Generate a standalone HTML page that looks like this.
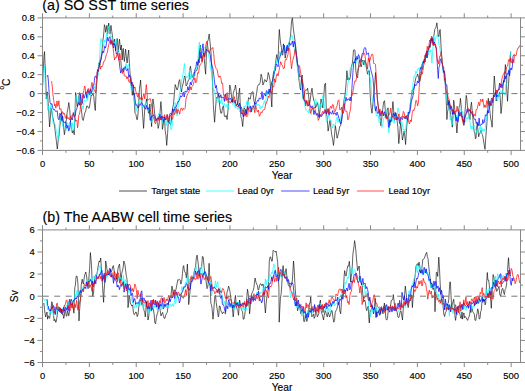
<!DOCTYPE html>
<html><head><meta charset="utf-8"><style>
html,body{margin:0;padding:0;background:#fff;width:525px;height:391px;overflow:hidden}
svg{display:block}
text{font-family:"Liberation Sans", sans-serif;fill:#000;stroke:#000;stroke-width:0.15px}
.tk{font-size:9.4px}
.yl{font-size:10.2px}
.ti{font-size:14.3px}
.lg{font-size:9.4px}
</style></head><body>
<svg width="525" height="391" viewBox="0 0 525 391">
<path d="M42.6 85.0 43.5 65.0 44.0 55.6 44.5 51.6 45.0 63.2 45.5 72.0 46.3 99.0 46.9 92.4 47.5 92.0 48.2 103.7 48.9 114.1 49.6 127.0 50.3 118.8 51.0 107.8 51.9 111.8 52.7 116.8 53.6 121.1 54.5 125.0 55.4 133.0 56.4 141.3 57.3 149.0 58.2 140.4 59.0 135.9 59.9 125.7 60.8 117.1 61.7 112.3 62.4 119.2 63.0 122.0 63.7 127.9 64.4 134.7 65.3 128.9 66.2 121.3 67.1 112.8 67.9 109.0 68.8 102.5 69.7 109.4 70.6 122.2 71.5 129.7 72.4 132.9 73.3 129.8 74.2 134.7 74.9 117.1 75.6 92.6 76.3 96.5 77.1 106.3 77.8 106.0 78.7 97.1 79.6 92.6 80.5 104.6 81.4 109.7 82.3 118.6 83.2 120.5 84.0 116.8 84.9 112.7 85.8 110.8 86.7 106.0 87.6 106.1 88.5 108.3 89.4 107.8 90.3 101.3 91.2 95.3 92.1 95.4 93.0 93.5 93.8 96.5 94.5 105.2 95.3 110.5 95.9 96.7 96.6 84.6 97.5 76.5 98.4 67.0 99.1 62.8 99.8 65.1 100.5 62.0 101.0 57.2 101.5 55.0 102.1 49.7 102.8 41.1 103.4 37.0 103.9 31.8 104.4 24.7 105.1 26.9 105.7 32.3 106.3 29.3 106.9 25.4 107.7 33.9 108.2 27.8 108.7 23.1 109.3 29.1 110.0 33.9 110.5 28.5 111.0 25.4 111.8 31.5 112.6 37.0 113.5 45.0 114.0 42.0 114.6 39.2 115.1 45.5 115.6 50.7 116.4 43.5 117.2 38.5 117.7 46.8 118.2 52.3 118.8 44.1 119.5 39.2 120.0 45.0 120.5 50.0 121.3 45.0 122.2 60.0 122.8 49.4 123.3 48.4 123.8 56.8 124.4 61.5 125.0 55.1 125.6 49.2 126.3 56.8 127.1 63.0 127.9 56.0 128.7 50.0 129.4 63.7 130.2 75.3 130.8 76.4 131.3 82.0 131.8 90.0 132.3 95.3 132.9 90.0 133.5 85.0 134.2 100.2 135.0 113.2 135.9 114.3 136.8 119.5 137.4 119.6 138.0 114.0 138.8 100.4 139.5 88.2 140.1 84.3 140.6 80.0 141.3 91.9 142.0 105.0 142.8 117.6 143.6 128.4 144.3 116.3 145.0 105.0 145.8 103.9 146.6 98.9 147.5 105.3 148.4 113.0 149.1 113.4 149.8 104.0 150.7 112.3 151.6 126.6 152.2 114.0 152.9 98.9 153.8 104.4 154.7 114.0 155.6 118.3 156.5 119.5 157.3 120.0 158.2 128.4 159.1 124.2 160.0 113.0 160.9 101.6 161.7 111.7 162.4 129.3 163.1 125.6 163.8 121.0 164.5 117.0 165.2 130.7 166.0 135.8 166.7 145.4 167.6 133.5 168.4 120.0 169.2 121.6 169.9 124.0 170.8 124.5 171.7 117.0 172.6 108.4 173.5 104.3 174.3 94.9 175.2 84.6 176.1 87.2 177.0 90.0 177.9 88.0 178.8 81.6 179.7 79.6 180.6 87.6 181.5 92.0 182.2 87.0 183.0 84.0 183.8 80.2 184.5 76.0 185.3 77.3 186.1 85.9 186.9 85.0 187.7 82.3 188.5 80.0 189.2 79.2 189.8 69.0 190.5 66.2 191.3 72.9 192.2 77.8 193.1 74.9 194.0 72.5 194.9 72.7 195.8 70.7 196.7 70.7 197.6 67.9 198.5 61.7 199.4 51.9 200.3 45.0 201.2 54.9 202.0 61.7 202.9 56.7 203.8 52.8 204.7 64.4 205.6 74.2 206.5 53.3 207.4 42.0 208.3 39.5 209.2 34.0 210.1 42.8 211.0 52.8 211.5 62.4 212.0 70.7 212.7 86.6 213.3 104.3 213.9 113.5 214.6 122.2 215.5 109.1 216.4 97.1 217.3 98.5 218.2 93.5 219.1 99.5 219.9 107.8 220.8 113.1 221.7 113.2 222.6 107.1 223.5 106.0 224.4 116.3 225.3 116.8 226.2 115.4 227.1 119.5 228.0 109.9 228.9 98.9 229.8 85.0 230.7 88.8 231.6 97.0 232.5 102.5 233.3 92.9 234.2 90.0 234.8 88.8 235.5 85.0 236.3 91.0 237.0 100.1 237.8 104.3 238.7 95.0 239.6 88.2 240.2 103.1 240.9 116.8 241.8 119.2 242.7 126.6 243.4 117.6 244.1 107.8 245.0 108.7 245.9 115.0 246.8 109.7 247.7 104.3 248.6 97.6 249.5 98.9 250.3 99.1 251.2 93.5 252.1 92.0 253.0 91.7 253.9 100.7 254.8 104.3 255.7 98.2 256.6 93.3 257.5 86.4 258.4 84.7 259.3 84.6 260.2 82.6 261.1 74.2 262.0 77.4 262.9 85.0 263.8 83.1 264.6 79.6 265.5 80.1 266.4 82.0 267.3 79.5 268.2 72.5 269.1 75.2 270.0 80.0 270.9 94.3 271.8 107.0 272.7 78.8 273.6 71.7 274.5 70.0 275.3 65.9 276.0 59.3 276.8 54.6 277.4 58.4 278.0 62.0 278.6 44.3 279.3 29.5 280.0 37.7 280.7 43.8 281.4 47.3 282.2 54.6 282.8 55.2 283.4 43.8 284.3 48.5 285.2 58.1 286.1 52.9 287.0 47.4 287.9 44.7 288.8 43.8 289.7 40.7 290.6 34.9 291.5 21.7 292.4 17.6 293.3 28.6 294.2 34.9 295.1 41.4 296.0 49.2 296.8 58.7 297.5 65.0 298.2 72.0 299.0 80.0 299.8 86.0 300.5 90.0 301.4 79.1 302.2 75.0 303.1 98.9 304.0 97.2 304.9 90.8 305.8 90.0 306.7 90.2 307.6 88.2 308.5 94.8 309.4 104.3 310.3 99.5 311.1 92.5 312.0 88.2 312.9 95.7 313.8 100.7 314.7 102.2 315.6 107.8 316.5 105.7 317.4 102.5 318.3 106.8 319.2 116.8 320.1 109.2 321.0 98.9 321.9 102.3 322.8 107.8 323.7 97.7 324.6 84.6 325.5 83.2 326.4 113.2 327.2 117.7 328.1 131.1 328.7 127.8 329.4 123.5 330.0 120.4 330.9 127.9 331.7 134.7 332.6 139.2 333.5 145.4 334.4 137.1 335.3 125.7 336.2 131.2 337.1 138.2 338.0 135.1 338.9 131.1 339.8 126.2 340.7 125.7 341.5 119.7 342.4 113.2 343.3 105.3 344.2 98.9 345.1 94.3 346.0 84.6 346.9 70.7 347.8 80.0 348.7 77.9 349.6 79.6 350.5 76.3 351.4 66.5 352.3 63.5 352.9 57.9 353.5 50.1 354.2 49.8 355.0 50.1 355.8 70.7 356.7 76.7 357.6 77.8 358.5 66.9 359.4 60.0 360.3 63.8 361.2 67.0 362.1 61.2 363.0 60.0 363.9 65.0 364.8 60.4 365.7 63.5 366.6 68.9 367.5 74.2 368.4 70.8 369.3 70.7 370.2 95.3 371.1 107.4 372.0 113.2 372.9 103.3 373.7 95.0 374.6 86.4 375.5 72.5 376.4 84.9 377.3 98.9 378.2 105.9 379.1 111.4 380.0 117.2 380.9 125.7 381.8 117.9 382.7 109.6 383.6 102.1 384.5 100.7 385.4 111.4 386.3 116.8 387.1 111.3 388.0 107.8 388.9 119.1 389.8 125.7 390.7 120.1 391.6 116.8 392.2 110.9 392.9 101.6 393.6 109.6 394.3 120.4 395.2 119.9 396.1 113.2 397.0 120.1 397.9 127.5 398.8 143.6 399.7 133.5 400.6 122.2 401.5 130.0 402.4 140.0 403.2 136.3 404.1 131.1 404.9 136.9 405.6 144.5 406.2 135.2 406.8 125.7 407.7 118.3 408.6 115.0 409.5 110.8 410.4 104.3 411.3 96.7 412.2 90.0 413.1 89.6 414.0 88.2 414.9 82.8 415.8 77.8 416.7 76.8 417.6 74.0 418.5 77.1 419.3 81.4 419.9 81.4 420.5 78.0 421.2 72.0 421.9 69.0 422.5 69.3 423.2 61.1 423.8 63.2 424.5 61.7 425.1 55.2 425.8 55.5 426.4 57.4 427.1 50.9 427.7 51.6 428.3 50.2 429.0 46.3 429.6 45.8 430.2 47.3 430.9 38.6 431.5 40.0 432.2 41.1 432.8 37.2 433.5 36.2 434.1 34.2 434.8 29.2 435.4 28.5 436.1 26.8 436.9 22.8 437.6 29.4 438.3 36.2 438.9 36.8 439.6 30.4 440.2 29.5 440.9 43.6 441.5 55.5 442.1 61.2 442.7 67.0 443.4 70.6 444.0 70.8 444.5 72.1 445.0 81.0 445.5 88.3 446.0 94.5 446.9 119.5 447.5 111.8 448.2 108.8 448.8 100.2 449.5 103.9 450.1 110.6 450.8 115.6 451.6 120.2 452.3 127.2 453.0 114.9 453.7 100.2 454.3 104.5 455.0 112.0 455.6 115.6 456.2 123.9 456.9 133.0 457.7 122.4 458.5 111.8 459.1 107.0 459.8 105.1 460.4 98.3 461.0 103.7 461.7 112.9 462.3 119.5 462.9 119.4 463.6 125.2 464.2 125.2 464.9 112.8 465.5 105.7 466.2 95.4 466.8 98.3 467.5 107.0 468.1 111.8 468.7 112.6 469.4 117.5 470.0 119.5 470.8 106.2 471.5 102.2 472.2 111.2 472.8 117.1 473.5 127.2 474.1 131.1 474.8 132.9 475.4 138.7 476.0 138.4 476.7 126.7 477.3 123.3 478.0 130.8 478.7 136.8 479.3 133.9 480.0 133.3 480.6 131.0 481.2 130.1 481.9 134.2 482.5 134.8 483.3 139.2 484.2 144.8 485.0 149.3 485.6 139.8 486.3 131.0 487.0 121.8 487.6 107.7 488.3 98.3 488.9 105.2 489.6 108.1 490.2 113.7 490.8 119.6 491.5 121.8 492.1 127.2 492.6 114.3 493.2 100.0 493.8 84.8 494.3 76.0 494.9 84.0 495.5 91.0 496.2 101.0 497.0 97.0 497.9 95.0 498.7 96.8 499.5 92.0 500.2 97.4 501.0 113.6 501.8 106.5 502.5 95.0 503.2 83.9 504.0 80.0 504.7 73.4 505.4 64.5 506.1 74.9 506.8 90.7 507.5 101.3 508.4 86.5 509.3 72.0 510.0 62.1 510.7 51.5" fill="none" stroke="#000" stroke-width="0.62" stroke-linejoin="round"/>
<path d="M42.7 86.5 43.6 73.5 44.5 65.0 45.0 79.7 45.6 93.5 46.3 95.9 47.0 100.0 47.7 110.3 48.5 106.1 49.2 113.2 50.1 110.0 51.0 104.0 51.9 109.9 52.7 120.4 53.6 124.7 54.5 122.9 55.4 126.0 56.3 131.7 57.2 134.5 58.1 140.0 58.7 133.6 59.4 122.7 60.0 117.0 60.9 122.1 61.7 119.8 62.6 126.0 63.5 127.1 64.4 126.9 65.3 127.5 66.2 130.3 67.1 122.5 68.0 124.0 68.9 124.3 69.7 122.2 70.6 122.0 71.5 131.8 72.4 122.8 73.3 130.8 74.2 129.3 75.1 111.7 76.0 95.3 76.9 99.7 77.8 103.5 78.7 99.1 79.6 95.3 80.5 105.5 81.4 108.0 82.3 105.9 83.2 109.5 84.1 100.3 85.0 100.7 85.9 101.7 86.8 94.8 87.6 100.4 88.5 93.5 89.4 90.3 90.3 95.8 91.2 89.6 92.1 90.0 93.0 92.4 93.9 86.2 94.8 88.3 95.7 84.0 96.5 80.2 97.2 78.8 98.0 75.0 98.8 64.4 99.5 60.6 100.2 46.0 101.0 38.5 101.7 42.1 102.3 41.7 103.0 45.0 103.7 47.4 104.3 40.0 105.0 42.0 105.8 41.4 106.6 32.8 107.4 36.8 108.2 26.0 109.1 29.1 110.0 35.0 110.9 36.8 111.8 36.4 112.6 44.0 113.5 42.0 114.4 41.9 115.2 46.7 116.1 39.6 117.0 43.8 117.5 48.6 118.0 49.2 118.9 51.5 119.8 58.0 120.7 61.7 121.6 66.5 122.5 70.7 123.4 68.1 124.3 68.6 125.2 67.0 126.1 63.2 126.9 68.4 127.8 65.3 128.7 64.5 129.6 74.2 130.5 83.8 131.4 91.7 132.3 88.1 133.2 88.0 134.1 99.5 135.0 103.4 135.9 111.4 136.8 108.4 137.7 104.3 138.6 101.3 139.5 103.8 140.4 99.2 141.3 100.7 142.2 105.6 143.0 108.0 143.9 105.6 144.8 105.5 145.7 102.5 146.6 102.7 147.5 107.4 148.4 108.0 149.3 112.3 150.2 116.8 151.1 122.0 152.0 122.2 152.9 119.1 153.8 116.8 154.7 120.5 155.6 119.4 156.5 122.2 157.4 122.8 158.2 115.2 159.1 113.2 160.0 117.9 160.9 114.5 161.8 118.6 162.7 122.5 163.6 116.8 164.5 117.0 165.4 123.6 166.3 125.7 167.2 119.1 168.1 123.3 169.0 116.8 169.9 116.9 170.8 129.7 171.7 129.3 172.6 120.4 173.5 116.8 174.3 111.0 175.2 102.5 176.1 106.9 177.0 116.0 177.9 110.0 178.8 98.5 179.7 91.7 180.6 90.1 181.5 82.8 182.2 77.4 183.0 74.1 183.8 67.8 184.5 63.5 185.2 74.7 186.0 78.0 186.9 76.3 187.8 77.4 188.7 74.2 189.6 69.7 190.5 79.6 191.3 72.6 192.2 78.0 193.1 76.0 194.0 72.4 194.9 76.1 195.8 68.8 196.7 68.9 197.6 63.3 198.5 49.3 199.4 42.0 200.3 47.7 201.1 48.3 202.0 52.8 202.9 52.2 203.8 48.5 204.7 47.4 205.6 47.7 206.5 45.6 207.4 45.2 208.3 52.8 209.2 58.5 210.1 63.5 211.0 70.7 211.9 74.4 212.8 87.0 213.7 90.6 214.6 89.8 215.5 97.0 216.4 99.8 217.2 97.2 218.1 102.8 219.0 98.0 219.9 99.5 220.8 103.7 221.7 98.7 222.6 104.0 223.5 106.1 224.4 103.4 225.3 106.9 226.2 107.0 227.1 103.7 228.0 109.1 228.9 102.4 229.8 102.0 230.7 102.8 231.6 102.1 232.5 104.6 233.4 104.0 234.3 102.1 235.2 108.1 236.1 106.6 237.0 107.5 237.9 109.6 238.8 104.2 239.6 112.1 240.5 110.0 241.4 106.9 242.3 110.9 243.2 108.5 244.1 106.1 245.0 107.0 245.9 106.0 246.8 101.4 247.7 107.4 248.6 102.1 249.5 107.0 250.4 108.5 251.2 107.3 252.1 111.0 253.0 110.0 253.9 105.6 254.8 109.4 255.7 106.0 256.6 103.6 257.5 105.3 258.4 104.3 259.3 104.8 260.2 109.1 261.1 106.2 262.0 107.8 262.9 105.6 263.7 102.8 264.6 100.7 265.5 105.2 266.4 92.5 267.3 95.3 268.2 93.9 269.1 89.4 270.1 93.7 271.0 88.0 271.9 81.7 272.7 83.3 273.6 80.0 274.5 70.7 275.4 63.5 276.3 63.2 277.1 59.7 278.0 63.0 278.9 58.1 279.8 51.4 280.7 55.5 281.6 52.5 282.5 51.0 283.4 51.1 284.3 45.8 285.2 51.7 286.1 47.4 287.0 46.2 287.9 47.3 288.8 43.8 289.7 38.8 290.6 39.6 291.5 34.9 292.4 35.8 293.3 42.0 294.1 47.6 295.0 52.8 295.9 54.6 296.8 63.5 297.7 69.6 298.6 74.2 299.3 77.6 300.0 85.0 300.7 87.3 301.5 88.8 302.2 91.7 303.1 98.7 304.0 97.2 304.9 106.0 305.8 109.9 306.7 109.5 307.6 111.4 308.5 112.7 309.4 108.8 310.3 113.2 311.2 114.7 312.1 109.5 313.0 107.8 313.9 106.4 314.7 100.6 315.6 98.9 316.5 103.6 317.4 101.7 318.3 104.3 319.2 109.7 320.1 103.7 321.0 107.8 321.9 105.5 322.8 95.6 323.7 98.9 324.6 107.7 325.5 113.1 326.4 122.2 327.3 120.8 328.1 116.0 329.0 116.8 329.9 120.4 330.8 119.8 331.7 124.0 332.6 128.1 333.5 123.9 334.4 125.7 335.3 125.7 336.2 119.6 337.1 116.8 338.0 122.3 338.9 119.1 339.8 122.2 340.7 118.6 341.5 110.7 342.4 107.8 343.3 108.4 344.2 100.7 345.1 96.2 346.0 95.9 346.9 93.5 347.8 83.7 348.7 79.2 349.6 70.7 350.5 67.6 351.4 68.6 352.3 65.0 353.2 63.5 354.1 63.8 354.9 59.6 355.8 61.7 356.7 62.7 357.6 58.7 358.5 58.1 359.4 60.1 360.3 60.4 361.2 63.5 362.1 64.1 363.0 61.7 363.9 61.6 364.8 65.3 365.7 67.1 366.6 63.5 367.5 66.1 368.4 74.5 369.3 76.0 370.1 77.3 371.0 85.0 371.5 92.9 372.0 99.0 372.9 101.6 373.7 105.4 374.6 107.8 375.5 109.8 376.4 116.2 377.3 115.0 378.2 114.8 379.1 122.6 380.0 122.2 380.9 120.3 381.8 127.5 382.7 124.4 383.6 118.3 384.5 116.8 385.4 117.3 386.2 109.9 387.1 109.6 388.0 122.9 388.9 132.9 389.8 123.2 390.7 116.8 391.6 121.5 392.5 119.7 393.4 122.2 394.3 123.4 395.2 115.9 396.1 118.6 397.0 115.7 397.9 107.8 398.8 110.0 399.7 116.8 400.6 123.2 401.5 120.9 402.4 124.0 403.3 129.9 404.1 129.1 405.0 132.9 405.9 127.2 406.8 116.8 407.7 112.0 408.6 116.1 409.5 107.8 410.4 101.6 411.3 98.9 412.2 92.3 413.1 82.7 414.0 76.0 414.9 76.8 415.8 71.2 416.7 73.2 417.6 68.9 418.5 67.8 419.4 70.6 420.2 67.1 421.1 67.0 422.0 65.4 422.9 61.3 423.8 59.3 424.6 59.2 425.4 56.8 426.1 57.1 426.9 54.5 427.7 55.5 428.4 54.9 429.1 50.2 429.9 52.0 430.6 49.7 431.2 53.5 431.9 63.2 432.7 51.6 433.5 36.2 434.1 35.2 434.8 42.3 435.4 40.0 436.0 37.2 436.7 36.5 437.3 34.3 437.9 36.9 438.6 42.3 439.2 45.8 439.9 48.5 440.5 52.6 441.2 55.5 441.8 57.4 442.5 69.4 443.1 69.0 443.7 70.6 444.4 78.3 445.0 82.4 445.6 83.2 446.3 95.3 446.9 100.2 447.5 102.3 448.2 110.3 448.8 109.8 449.5 110.0 450.2 120.1 451.0 117.5 451.7 125.2 452.4 124.8 453.1 117.2 453.9 118.4 454.6 113.7 455.3 111.3 456.1 119.6 456.8 115.3 457.5 119.5 458.2 118.5 458.9 113.7 459.7 113.3 460.4 109.8 461.1 108.5 461.9 112.8 462.6 111.4 463.3 115.6 464.0 117.3 464.8 115.5 465.5 122.0 466.2 119.5 467.1 117.3 468.1 119.2 469.0 115.6 469.7 119.8 470.3 125.4 471.0 129.0 471.9 125.9 472.9 128.8 473.8 125.2 474.5 125.5 475.2 129.7 476.0 129.2 476.7 133.0 477.4 132.2 478.1 129.4 478.9 130.4 479.6 129.0 480.3 126.0 481.1 134.0 481.8 127.4 482.5 131.0 483.2 131.0 483.9 128.9 484.7 130.9 485.4 127.2 486.1 119.0 486.9 117.9 487.6 106.4 488.3 106.0 489.0 105.8 489.8 103.6 490.5 106.5 491.2 104.1 492.1 99.6 493.1 101.2 494.0 92.5 494.8 93.9 495.5 97.2 496.2 95.7 497.0 100.2 497.8 100.9 498.5 93.0 499.3 97.0 500.0 91.6 500.8 90.6 501.6 93.6 502.3 90.6 503.1 93.8 503.8 92.1 504.6 94.5 505.2 95.0 505.9 84.0 506.5 84.0 507.2 83.2 507.8 72.2 508.5 70.0 509.1 68.6 509.8 55.2 510.4 55.5 510.7 51.5" fill="none" stroke="#0ff" stroke-width="0.7" stroke-linejoin="round"/>
<path d="M47.2 76.7 47.8 75.2 48.3 80.0 49.2 93.5 50.1 102.7 51.0 104.3 51.9 103.6 52.7 107.8 53.6 109.9 54.5 109.3 55.4 111.3 56.3 111.4 57.2 110.7 58.1 118.6 59.0 119.9 59.9 113.2 60.8 115.1 61.7 120.5 62.6 116.0 63.5 122.2 64.4 123.1 65.3 121.5 66.2 124.0 67.1 128.3 67.9 125.3 68.8 131.1 69.7 127.7 70.6 120.4 71.5 118.8 72.4 119.9 73.3 112.5 74.2 116.8 75.1 116.0 76.0 110.5 76.9 108.6 77.8 104.3 78.7 102.3 79.6 105.2 80.5 94.3 81.4 100.7 82.3 103.4 83.2 94.4 84.1 98.3 85.0 95.3 85.9 91.9 86.8 97.8 87.6 89.8 88.5 91.7 89.4 94.6 90.3 88.8 91.2 93.0 92.1 90.0 93.0 84.8 93.9 85.1 94.8 76.7 95.7 76.0 96.6 78.6 97.5 69.7 98.3 71.4 99.2 67.0 100.1 60.4 101.0 60.3 101.9 54.9 102.8 51.0 103.7 52.7 104.6 46.4 105.5 48.1 106.4 43.8 107.3 37.3 108.2 41.1 109.1 37.5 110.0 36.7 110.9 44.5 111.8 41.3 112.7 45.6 113.6 48.0 114.4 43.6 115.3 45.6 116.2 53.7 117.1 52.8 118.0 56.4 118.9 58.6 119.8 67.0 120.7 73.1 121.6 70.7 122.5 69.3 123.4 72.0 124.3 68.9 125.2 66.6 126.1 70.2 127.0 70.7 127.9 68.5 128.8 77.4 129.6 75.0 130.5 77.8 131.3 83.8 132.2 82.0 133.0 88.0 133.7 94.8 134.3 93.0 135.0 98.9 135.9 105.3 136.8 104.8 137.7 107.8 138.6 107.6 139.5 104.6 140.4 105.0 141.3 102.5 142.2 103.4 143.1 105.7 143.9 105.8 144.8 107.8 145.7 109.2 146.6 105.3 147.5 109.3 148.4 107.8 149.3 109.9 150.2 120.3 151.1 116.8 152.0 116.2 152.9 115.8 153.8 115.0 154.7 116.5 155.6 120.8 156.5 120.4 157.4 117.8 158.2 119.2 159.1 116.8 160.0 114.4 160.9 120.0 161.8 116.0 162.7 118.6 163.6 121.9 164.5 116.9 165.4 119.9 166.3 116.8 167.2 115.2 168.1 122.2 169.0 121.4 169.9 113.7 170.8 113.2 171.7 115.2 172.6 108.8 173.5 111.4 174.4 110.3 175.2 107.0 176.1 107.2 177.0 104.3 177.9 101.4 178.8 101.6 179.7 98.9 180.6 95.7 181.5 97.1 182.4 95.3 183.3 92.1 184.2 97.0 185.1 91.0 186.0 91.7 186.9 92.1 187.8 86.6 188.7 90.1 189.6 86.4 190.4 82.2 191.3 85.0 192.2 80.6 193.0 80.0 193.9 76.9 194.8 69.8 195.8 67.6 196.7 61.7 197.6 65.3 198.4 59.7 199.2 62.9 200.0 51.9 200.8 58.3 201.6 55.5 202.3 48.2 203.0 43.8 203.8 52.1 204.7 56.4 205.6 51.3 206.5 49.2 207.4 51.0 208.3 51.0 209.2 51.7 210.1 54.6 211.0 61.2 211.9 65.3 212.8 67.9 213.7 74.2 214.6 82.2 215.5 88.2 216.4 85.3 217.2 92.7 218.1 92.6 219.0 95.3 219.9 97.8 220.8 94.7 221.7 98.2 222.6 97.1 223.5 97.0 224.4 101.4 225.3 94.0 226.2 98.9 227.1 99.9 228.0 98.5 228.9 99.3 229.8 98.9 230.7 98.0 231.6 101.9 232.5 99.1 233.4 100.7 234.3 102.6 235.2 100.1 236.1 106.2 237.0 104.3 237.9 104.1 238.8 106.5 239.6 103.1 240.5 107.8 241.4 113.9 242.3 112.8 243.2 116.8 244.1 114.7 245.0 111.4 245.9 109.6 246.8 114.0 247.7 106.4 248.6 109.2 249.5 107.8 250.4 105.9 251.2 112.1 252.1 106.3 253.0 106.0 253.9 106.4 254.8 102.7 255.7 104.4 256.6 102.5 257.5 100.4 258.4 101.2 259.3 97.8 260.2 98.9 261.1 98.6 262.0 91.6 262.9 99.7 263.8 95.3 264.7 93.4 265.6 96.1 266.4 90.5 267.3 91.7 268.2 94.1 269.1 88.9 270.1 92.7 271.0 86.4 271.9 81.8 272.7 80.9 273.6 76.0 274.5 71.7 275.4 70.7 276.3 63.7 277.2 65.3 278.1 66.8 278.9 59.4 279.8 57.4 280.7 54.6 281.6 51.2 282.5 51.9 283.4 49.2 284.3 45.1 285.2 53.0 286.1 52.8 287.0 45.5 287.9 51.1 288.8 47.4 289.7 42.7 290.6 45.2 291.5 43.8 292.4 41.0 293.3 47.0 294.2 41.2 295.1 44.7 296.0 52.8 296.9 59.8 297.7 65.3 298.6 65.8 299.5 76.5 300.4 76.0 301.3 77.2 302.2 86.0 303.1 95.2 304.0 100.7 304.9 99.9 305.8 103.4 306.7 100.7 307.6 104.3 308.5 106.0 309.4 103.6 310.3 106.0 311.2 107.9 312.1 105.9 313.0 107.8 313.9 114.6 314.7 110.7 315.6 113.2 316.5 115.3 317.4 113.4 318.3 115.0 319.2 117.7 320.1 115.0 321.0 116.8 321.9 115.9 322.8 113.7 323.7 113.2 324.6 112.8 325.4 110.2 326.3 114.0 327.2 111.4 328.1 109.2 329.0 115.4 329.9 111.7 330.8 113.2 331.7 114.2 332.6 110.6 333.5 114.3 334.4 113.2 335.3 113.0 336.2 115.4 337.1 112.1 338.0 115.0 338.9 118.0 339.8 121.0 340.7 124.0 341.6 121.4 342.4 114.4 343.3 113.2 344.2 109.2 345.1 102.5 346.0 97.2 346.9 100.7 347.8 99.1 348.7 98.9 349.5 100.5 350.2 97.1 351.0 101.0 351.9 88.3 352.9 72.6 353.8 61.7 354.6 63.0 355.4 58.2 356.1 60.5 356.9 56.3 357.7 59.3 358.5 54.6 359.4 56.5 360.3 60.4 361.2 61.7 362.1 53.7 363.0 53.7 363.9 49.2 364.8 47.4 365.7 48.1 366.6 54.6 367.5 53.9 368.4 52.8 369.3 59.4 370.2 67.0 371.1 70.8 372.0 74.2 372.9 77.7 373.7 87.0 374.6 102.5 375.5 110.9 376.4 106.5 377.3 113.2 378.2 113.5 379.1 110.8 380.0 113.2 380.9 115.9 381.8 110.8 382.7 111.4 383.6 115.9 384.5 111.7 385.4 115.0 386.3 118.1 387.1 117.0 388.0 119.5 388.9 127.5 389.8 119.7 390.7 122.2 391.6 120.1 392.5 115.8 393.4 113.2 394.3 116.5 395.2 112.3 396.1 116.8 397.0 120.0 397.9 116.8 398.8 119.5 399.7 123.7 400.6 117.5 401.5 118.6 402.4 119.6 403.2 116.8 404.1 116.8 405.0 118.9 405.9 115.8 406.8 118.6 407.7 119.9 408.6 112.2 409.5 113.2 410.4 109.9 411.3 101.6 412.2 98.9 413.1 95.4 414.0 88.2 414.9 84.4 415.8 85.8 416.7 84.6 417.5 80.9 418.4 83.0 419.2 80.0 420.0 70.8 420.7 67.6 421.4 68.8 422.2 64.2 422.9 63.2 423.6 61.6 424.4 59.0 425.1 62.0 425.8 55.5 426.5 51.3 427.2 58.0 428.0 50.5 428.7 49.7 429.6 46.2 430.6 41.6 431.5 38.2 432.2 43.4 432.9 38.5 433.7 44.8 434.4 42.0 435.0 43.9 435.7 47.9 436.3 47.8 437.0 57.7 437.6 69.3 438.3 78.5 438.9 67.6 439.6 66.2 440.2 59.3 440.8 58.8 441.5 62.7 442.1 63.2 442.7 65.1 443.4 72.6 444.0 70.8 444.7 72.8 445.3 82.1 446.0 85.0 446.9 85.1 447.9 105.2 448.8 102.2 449.5 101.9 450.2 109.3 451.0 105.7 451.7 108.0 452.4 114.4 453.1 109.8 453.9 114.0 454.6 111.8 455.3 113.8 456.1 120.8 456.8 117.2 457.5 121.4 458.2 121.7 458.9 112.4 459.7 116.2 460.4 113.7 461.1 112.2 461.9 116.9 462.6 116.4 463.3 119.5 464.0 122.7 464.8 115.8 465.5 116.3 466.2 113.7 467.1 109.3 468.1 111.5 469.0 109.8 469.7 109.8 470.4 112.1 471.2 112.3 471.9 113.7 472.6 115.6 473.4 116.0 474.1 119.1 474.8 119.5 475.5 119.1 476.2 123.6 477.0 121.9 477.7 123.3 478.4 125.7 479.1 118.1 479.9 125.9 480.6 125.2 481.3 124.2 482.1 124.5 482.8 119.6 483.5 123.3 484.4 122.0 485.4 114.7 486.3 115.6 487.0 114.5 487.8 110.5 488.5 113.0 489.2 106.0 489.9 100.9 490.6 105.5 491.4 98.4 492.1 98.3 492.8 102.6 493.6 95.3 494.3 96.9 495.0 94.5 495.8 92.0 496.5 97.2 497.3 90.5 498.0 90.9 498.8 88.7 499.6 83.0 500.4 87.4 501.1 83.8 501.9 87.9 502.7 85.0 503.5 80.6 504.2 82.2 505.0 76.0 505.7 78.8 506.5 76.0 507.3 73.5 508.1 74.3 508.8 70.4 509.6 75.8 510.4 69.0 511.0 67.9 511.7 69.8 512.3 67.0 513.0 56.5 513.7 54.5" fill="none" stroke="#00f" stroke-width="0.7" stroke-linejoin="round"/>
<path d="M51.6 81.1 52.3 86.5 53.0 95.0 53.8 100.8 54.5 106.0 55.1 104.2 55.8 108.2 56.4 105.8 57.0 100.9 57.7 106.3 58.3 104.8 58.9 100.7 59.6 109.2 60.2 109.6 60.9 108.5 61.7 113.7 62.4 111.6 63.1 112.5 63.8 114.3 64.5 113.4 65.3 118.3 66.0 117.3 66.7 115.2 67.5 118.6 68.2 117.6 68.9 119.2 69.5 119.5 70.2 116.8 70.8 116.3 71.5 119.0 72.2 114.6 73.0 115.1 73.7 114.4 74.6 116.2 75.6 121.3 76.5 120.0 77.0 121.2 77.5 127.8 78.1 124.4 78.8 115.0 79.4 114.4 80.1 111.0 80.8 102.5 81.6 105.2 82.3 97.5 83.1 93.6 83.8 90.6 84.6 86.0 85.2 87.4 85.7 93.0 86.6 92.9 87.5 90.6 88.3 88.4 89.2 92.9 90.1 91.0 91.0 88.0 91.8 82.3 92.6 83.7 93.2 87.7 93.8 89.0 94.7 90.8 95.5 92.9 96.3 85.0 97.2 72.2 98.1 71.2 99.0 67.6 99.8 64.5 100.5 69.1 101.3 66.0 102.0 66.8 102.8 65.3 103.7 61.5 104.6 61.2 105.5 58.1 106.4 54.5 107.3 52.6 108.2 47.4 109.1 43.4 110.0 40.3 110.9 43.2 111.8 39.7 112.7 43.8 113.6 52.7 114.5 60.0 115.4 57.5 116.2 58.0 117.1 52.8 118.0 52.8 118.9 60.5 119.8 53.3 120.7 58.1 121.6 70.7 122.5 73.6 123.4 67.8 124.3 76.0 125.2 76.0 126.1 76.0 126.9 78.9 127.8 76.8 128.7 81.4 129.6 82.5 130.5 78.5 131.4 86.0 132.3 84.0 133.2 84.3 134.1 88.3 135.0 87.0 135.9 91.7 136.8 94.5 137.7 97.1 138.6 93.2 139.5 98.8 140.4 98.9 141.3 97.0 142.1 100.2 143.0 97.1 143.9 93.4 144.8 98.9 145.6 92.2 146.3 84.6 146.9 90.7 147.5 100.7 148.4 100.0 149.3 98.9 150.2 98.6 151.1 102.5 152.0 108.3 152.9 113.2 153.8 116.6 154.7 122.6 155.6 124.0 156.5 119.2 157.4 118.6 158.3 120.5 159.1 116.4 160.0 118.0 160.9 119.2 161.8 116.1 162.7 117.0 163.6 118.0 164.5 114.6 165.4 119.0 166.3 119.9 167.2 114.2 168.1 117.0 169.0 120.9 169.9 115.0 170.8 116.0 171.7 120.1 172.6 118.0 173.5 109.1 174.3 114.7 175.2 113.0 176.1 108.3 177.0 113.5 177.9 109.3 178.8 111.0 179.7 114.2 180.6 108.8 181.5 107.8 182.4 110.5 183.3 108.3 184.2 109.6 185.1 108.6 186.0 98.9 186.9 95.9 187.8 93.5 188.7 92.1 189.6 89.9 190.4 86.8 191.1 90.0 191.9 86.6 192.6 86.0 193.4 84.6 194.2 80.8 194.9 77.8 195.8 82.9 196.7 81.4 197.6 72.7 198.5 73.2 199.4 67.0 200.3 64.2 201.2 63.5 202.1 62.4 202.9 55.3 203.8 54.6 204.7 57.1 205.6 47.4 206.5 41.6 207.4 43.8 208.3 50.6 209.2 52.8 210.1 49.6 211.0 49.2 211.9 48.8 212.8 47.4 213.7 53.6 214.6 63.5 215.5 67.1 216.4 68.9 217.3 69.9 218.2 76.0 219.1 77.4 219.9 75.8 220.8 77.8 221.7 83.5 222.6 83.2 223.5 95.3 224.4 95.2 225.3 99.8 226.2 100.7 227.1 92.6 228.0 102.5 228.9 101.5 229.8 102.5 230.7 102.4 231.6 100.2 232.5 100.6 233.4 98.9 234.3 96.6 235.2 102.9 236.1 103.9 237.0 106.0 237.9 106.7 238.8 106.1 239.6 108.3 240.5 107.8 241.4 106.9 242.3 112.7 243.2 109.7 244.1 113.2 245.0 116.3 245.9 114.1 246.8 116.8 247.7 115.6 248.6 108.3 249.5 111.4 250.4 112.1 251.2 108.6 252.1 109.3 253.0 107.8 253.9 106.4 254.8 112.7 255.7 105.4 256.6 109.6 257.5 112.1 258.4 110.1 259.3 116.3 260.2 115.0 261.1 111.8 262.0 112.8 262.9 110.1 263.8 109.6 264.7 109.4 265.6 104.6 266.4 103.0 267.3 100.7 268.2 96.1 269.1 97.6 270.0 89.3 270.9 91.7 271.6 94.4 272.3 87.0 273.0 86.4 273.8 87.1 274.6 78.8 275.5 82.4 276.3 76.0 277.2 73.6 278.1 76.0 279.0 70.7 279.9 66.0 280.7 61.7 281.6 64.8 282.5 65.4 283.4 68.9 284.3 68.2 285.2 59.7 286.1 60.0 287.0 57.7 287.9 54.6 288.8 47.6 289.7 49.2 290.6 59.6 291.5 68.9 292.4 62.1 293.3 58.1 294.1 55.7 295.0 49.2 295.9 52.0 296.8 56.4 297.7 65.2 298.6 65.3 299.5 65.8 300.4 70.7 301.3 77.1 302.2 79.6 303.1 83.3 304.0 89.0 304.9 100.3 305.8 106.0 306.7 100.4 307.6 106.2 308.5 102.5 309.4 100.2 310.3 113.2 311.2 111.4 312.1 107.6 312.9 109.2 313.8 107.8 314.7 107.2 315.6 112.7 316.5 113.2 317.4 115.0 318.3 120.4 319.2 118.6 320.1 114.3 321.0 116.0 321.9 113.2 322.8 111.2 323.7 113.8 324.6 109.6 325.5 109.6 326.3 114.1 327.2 113.2 328.1 108.3 329.0 113.9 329.9 107.8 330.8 106.1 331.7 108.5 332.6 104.3 333.5 105.1 334.4 112.2 335.3 111.4 336.2 107.8 337.1 105.7 338.0 100.7 338.9 99.8 339.8 109.8 340.7 109.6 341.6 107.1 342.4 113.3 343.3 106.0 344.2 103.5 345.1 110.7 346.0 111.4 346.9 111.2 347.8 119.9 348.7 118.6 349.4 113.8 350.0 111.6 350.7 108.0 351.5 96.6 352.3 95.0 353.1 90.9 354.0 85.0 354.9 80.8 355.8 81.4 356.7 76.9 357.6 70.7 358.5 67.3 359.4 67.0 360.3 64.1 361.2 58.7 362.1 56.4 363.0 55.4 363.9 52.8 364.8 53.6 365.7 61.7 366.6 65.4 367.5 68.9 368.4 58.0 369.3 61.7 370.1 60.0 371.0 56.4 371.9 54.0 372.8 54.6 373.7 63.6 374.6 63.5 375.5 64.4 376.4 79.6 377.3 97.1 378.2 106.0 379.1 111.4 380.0 109.0 380.9 114.3 381.8 113.2 382.7 112.3 383.6 114.7 384.5 115.0 385.4 114.6 386.2 119.1 387.1 116.8 388.0 115.5 388.9 115.3 389.8 113.2 390.7 108.1 391.6 115.9 392.5 116.8 393.4 116.3 394.3 119.1 395.2 118.6 396.1 117.4 397.0 119.4 397.9 116.8 398.8 113.9 399.7 121.4 400.6 120.4 401.5 116.5 402.4 117.1 403.3 111.4 404.2 112.7 405.0 118.3 405.9 118.6 406.8 115.6 407.7 115.0 408.6 121.9 409.5 124.0 410.4 120.0 411.3 121.7 412.2 113.2 413.1 109.9 414.0 110.7 414.9 107.8 415.8 100.5 416.7 100.7 417.6 105.8 418.5 102.5 419.2 87.5 420.0 77.0 420.7 76.6 421.4 71.8 422.2 74.3 422.9 70.8 423.6 65.6 424.4 63.3 425.1 55.3 425.8 53.5 426.5 55.7 427.2 46.3 428.0 50.0 428.7 47.8 429.6 40.1 430.6 42.3 431.5 36.2 432.2 39.4 432.8 45.1 433.5 45.8 434.1 43.6 434.8 45.3 435.4 44.0 436.0 46.1 436.7 55.9 437.3 61.2 437.9 60.5 438.6 63.7 439.2 59.3 439.9 55.7 440.5 56.2 441.2 51.6 441.8 56.4 442.5 66.0 443.1 67.0 443.7 66.9 444.4 80.3 445.0 78.5 445.5 83.7 446.0 90.0 446.8 93.1 447.5 93.5 448.3 98.7 449.0 98.9 449.8 104.1 450.5 106.0 451.2 106.9 452.0 110.9 452.7 109.8 453.4 109.8 454.1 114.4 454.9 110.8 455.6 111.8 456.3 112.0 457.1 106.1 457.8 111.3 458.5 109.8 459.4 111.1 460.4 115.7 461.3 115.6 462.0 116.8 462.6 121.3 463.3 123.3 464.0 120.7 464.8 118.7 465.5 114.2 466.2 113.7 467.1 113.0 468.1 108.3 469.0 109.8 469.7 111.3 470.4 110.0 471.2 113.1 471.9 111.8 472.6 111.0 473.4 116.4 474.1 114.1 474.8 115.6 475.4 116.1 476.1 109.5 476.7 109.8 477.4 108.4 478.0 104.7 478.7 102.2 479.6 105.8 480.6 99.2 481.5 100.2 482.2 101.8 482.8 98.9 483.5 104.1 484.1 107.6 484.8 104.8 485.4 106.0 486.0 107.5 486.7 100.6 487.3 102.2 487.9 104.0 488.6 103.3 489.2 106.0 489.9 104.8 490.6 102.7 491.4 105.6 492.1 100.2 492.8 97.8 493.6 97.1 494.3 93.2 495.0 92.5 495.7 92.5 496.4 90.0 497.2 93.4 497.9 90.6 498.6 88.8 499.4 89.9 500.1 85.2 500.8 85.0 501.5 81.7 502.3 76.8 503.0 75.0 503.8 73.8 504.5 71.7 505.2 73.6 506.0 70.0 506.9 66.6 507.7 66.0 508.5 59.7 509.4 59.3 510.1 62.2 510.8 57.8 511.6 62.8 512.3 63.0 513.0 59.1 513.8 62.7 514.5 54.5 515.2 55.5 516.1 55.7 517.1 50.2 518.0 47.8 518.7 47.9 519.5 45.7 520.2 45.5" fill="none" stroke="#f00" stroke-width="0.7" stroke-linejoin="round"/>
<path d="M43.2 304.3 43.9 303.4 44.5 309.4 45.1 313.8 45.7 317.0 46.4 313.5 47.0 312.0 47.6 319.2 48.3 315.8 49.0 317.1 49.6 318.4 50.2 314.5 50.9 309.4 51.8 301.7 52.3 303.2 52.8 306.9 53.5 314.5 54.1 320.9 54.6 319.4 55.1 319.6 55.8 322.4 56.4 320.9 57.3 314.5 57.9 308.9 58.5 306.9 59.1 310.4 59.8 312.0 60.5 309.3 61.1 309.4 61.8 313.1 62.4 314.5 63.0 313.8 63.7 318.4 64.3 316.1 64.9 309.4 65.6 311.1 66.2 315.8 66.8 316.4 67.5 310.7 68.2 313.2 68.8 315.8 69.4 312.1 70.0 305.6 70.7 300.2 71.3 299.2 71.9 303.0 72.6 305.6 73.2 307.9 73.9 313.2 74.8 287.7 75.4 285.1 76.1 276.4 77.0 276.1 77.5 279.3 78.0 285.0 78.5 303.1 79.0 320.9 79.5 311.5 80.0 305.0 80.6 296.5 81.2 285.4 81.7 281.9 82.2 279.2 82.8 282.7 83.4 284.0 84.1 278.9 84.7 274.6 85.2 274.3 85.8 272.0 86.3 274.6 86.8 278.0 87.4 284.1 88.1 288.7 88.8 278.5 89.6 268.7 90.4 252.6 91.0 259.2 91.5 265.6 92.1 280.4 92.7 296.4 93.5 293.0 94.2 284.0 95.0 276.4 95.8 274.9 96.5 275.9 97.3 271.8 98.2 265.9 99.1 261.0 99.9 262.0 100.7 258.0 101.3 266.7 102.0 276.0 102.5 285.6 103.1 294.8 103.6 302.3 104.1 291.0 104.6 284.0 105.2 274.6 105.7 261.0 106.5 266.0 107.3 271.8 108.0 273.6 108.8 274.9 109.5 268.4 110.3 268.7 111.1 271.9 111.9 270.3 112.7 266.7 113.4 265.6 114.2 270.8 115.0 273.3 115.8 274.2 116.5 279.5 117.2 275.2 118.0 268.7 118.8 265.6 119.5 264.1 120.3 272.8 121.1 281.0 121.8 273.1 122.6 270.0 123.2 267.2 123.8 261.0 124.3 262.3 124.9 264.1 125.7 271.0 126.4 276.4 127.0 279.4 127.5 288.7 128.0 307.6 128.5 304.1 129.0 295.3 129.7 297.6 130.3 303.0 131.1 304.7 131.8 306.1 132.6 304.9 133.4 312.3 134.2 314.7 134.9 313.8 135.7 312.0 136.4 312.3 137.2 316.6 138.0 314.6 138.8 306.6 139.5 303.0 140.2 301.6 141.0 298.4 141.8 298.9 142.6 301.5 143.3 307.0 144.1 310.7 144.7 312.6 145.3 316.9 145.9 309.9 146.4 301.5 147.2 308.1 148.0 320.0 148.8 315.8 149.5 307.6 150.2 308.0 151.0 310.7 151.8 310.5 152.6 307.6 153.3 309.3 154.1 313.8 154.8 322.6 155.6 323.8 156.4 317.4 157.2 313.8 157.9 312.0 158.7 303.0 159.4 305.1 160.2 310.7 161.0 315.9 161.8 313.8 162.6 312.4 163.3 315.3 164.1 318.2 164.9 318.4 165.7 315.1 166.4 313.8 167.2 312.4 167.9 307.6 168.7 301.3 169.5 298.4 170.2 297.2 171.0 295.4 171.5 289.7 172.0 286.1 172.7 290.5 173.3 293.8 174.1 289.7 174.8 290.8 175.6 291.2 176.3 287.7 177.1 283.5 177.9 279.5 178.7 280.0 179.4 279.5 180.2 280.1 180.9 284.1 181.7 281.2 182.5 273.3 183.1 267.2 183.7 265.6 184.2 269.6 184.8 271.8 185.6 273.2 186.4 278.0 186.9 271.2 187.4 264.1 188.1 281.1 188.7 304.6 189.4 298.2 190.2 289.2 190.9 283.0 191.7 280.0 192.5 278.3 193.3 276.4 194.1 272.5 194.8 268.7 195.6 266.9 196.3 258.0 197.1 255.1 197.9 261.0 198.7 268.0 199.4 274.9 200.2 267.9 200.9 268.7 201.7 266.5 202.4 256.4 203.2 256.9 204.0 265.6 204.8 272.7 205.5 276.4 206.2 282.0 207.0 288.7 207.6 287.6 208.1 284.1 208.6 272.7 209.1 263.3 209.6 273.9 210.1 284.1 210.9 303.8 211.5 304.9 212.1 308.7 213.0 319.2 213.7 311.4 214.3 303.0 214.9 296.1 215.5 295.4 216.2 302.3 217.0 308.4 217.7 312.3 218.3 316.9 218.8 315.2 219.3 306.1 220.1 306.1 220.9 310.7 221.7 312.3 222.4 313.8 223.2 312.2 224.0 312.3 224.8 313.3 225.5 313.8 226.2 299.7 227.0 292.3 227.8 290.0 228.6 286.1 229.3 288.3 230.1 292.3 230.8 298.0 231.6 303.0 232.4 308.4 233.2 316.9 233.7 312.7 234.2 304.6 234.8 299.5 235.5 295.4 236.2 305.4 237.0 309.2 237.8 310.5 238.5 315.3 239.1 307.7 239.6 300.0 240.2 302.8 240.9 307.6 241.4 309.5 241.9 310.7 242.6 311.8 243.2 319.2 243.9 319.1 244.7 315.3 245.4 309.3 246.2 304.6 246.8 297.2 247.5 289.2 248.2 293.5 249.0 303.0 249.6 313.8 250.2 307.5 250.8 298.4 251.6 294.3 252.4 292.3 253.2 290.5 253.9 287.7 254.5 281.9 255.1 278.0 255.9 282.1 256.7 284.1 257.4 285.3 258.2 290.2 258.9 289.2 259.6 285.4 260.4 283.7 261.1 284.1 261.9 285.8 262.7 284.1 263.2 284.2 263.7 289.0 264.5 302.6 265.4 313.0 266.2 303.2 267.0 295.4 267.8 291.4 268.5 286.0 269.3 261.0 270.1 256.8 270.8 257.2 271.6 261.2 272.3 261.0 273.1 250.3 273.9 250.8 274.6 251.5 275.4 252.1 276.1 251.0 276.9 256.6 277.7 262.6 278.3 276.3 278.9 287.2 279.2 322.2 279.8 309.0 280.4 298.4 281.2 293.3 282.0 281.0 282.6 270.2 283.1 265.6 283.9 274.2 284.6 276.4 285.4 272.4 286.1 268.7 286.9 276.7 287.7 281.0 288.4 281.8 289.2 284.1 289.9 287.5 290.7 287.2 291.5 283.3 292.3 281.0 292.9 272.0 293.5 261.0 294.1 268.2 294.6 278.0 295.2 288.6 295.8 296.4 296.1 298.4 296.9 304.0 297.6 310.7 298.4 308.0 299.2 304.6 299.9 306.9 300.7 313.8 301.5 312.5 302.3 310.7 303.1 313.2 303.8 321.5 304.6 321.4 305.3 315.3 306.1 318.1 306.9 321.5 307.6 317.3 308.4 312.3 309.0 307.4 309.6 303.0 310.1 303.1 310.7 296.9 311.2 304.2 311.8 316.9 312.4 316.2 313.0 315.3 313.6 313.9 314.2 318.4 315.0 316.8 315.8 310.7 316.6 312.4 317.3 316.9 318.1 315.4 318.8 313.8 319.6 303.5 320.4 300.0 321.1 310.3 321.9 313.8 322.7 316.1 323.5 320.0 324.2 315.4 325.0 310.7 325.8 312.2 326.5 315.3 327.3 316.9 328.1 312.3 328.9 314.3 329.6 316.9 330.5 314.5 331.4 310.7 332.1 310.6 332.9 316.9 333.7 322.2 334.5 320.7 335.2 312.5 336.0 310.7 336.8 309.2 337.6 306.1 338.4 302.2 339.1 303.0 339.9 311.2 340.7 313.8 341.4 302.8 342.2 295.4 342.9 292.8 343.7 285.0 344.2 275.1 344.7 270.6 345.4 275.6 346.2 276.0 346.9 270.6 347.7 266.0 348.5 266.2 349.3 261.3 350.0 268.6 350.7 282.0 351.5 274.0 352.3 266.0 352.9 254.1 353.5 250.0 354.1 245.4 354.6 240.6 355.2 244.6 355.8 250.0 356.7 261.0 357.6 270.6 358.4 268.0 359.2 266.0 359.9 277.6 360.6 282.0 361.4 282.8 362.1 285.2 362.9 295.4 363.8 301.8 364.7 300.0 365.4 302.2 366.0 307.8 366.7 310.7 367.5 307.7 368.3 306.1 368.8 317.7 369.3 323.0 370.0 312.1 370.6 310.7 371.4 309.1 372.1 306.1 372.9 308.6 373.6 313.8 374.4 306.8 375.2 298.4 375.9 306.4 376.7 316.9 377.5 316.0 378.3 310.7 379.1 311.7 379.8 315.3 380.6 312.5 381.3 307.6 382.1 308.7 382.9 313.8 383.6 309.7 384.4 303.0 385.2 310.7 386.0 319.2 386.8 320.1 387.5 318.4 388.2 310.9 389.0 307.6 389.8 307.2 390.5 306.1 391.3 300.4 392.1 300.0 392.7 299.7 393.3 294.6 394.1 301.0 394.8 307.6 395.6 309.5 396.4 310.7 397.1 311.9 397.9 316.9 398.7 317.7 399.5 315.3 400.2 311.4 401.0 310.7 401.8 316.0 402.5 320.0 403.3 308.2 404.1 300.0 404.7 293.2 405.3 286.1 406.0 291.9 406.7 298.4 407.4 304.0 408.2 307.6 408.9 303.4 409.7 300.0 410.5 300.6 411.3 295.4 411.9 298.3 412.4 307.6 412.9 300.4 413.5 290.0 414.1 283.6 414.8 278.0 415.4 273.1 415.9 266.7 416.7 264.6 417.5 263.6 418.2 265.9 419.0 262.1 419.8 266.2 420.6 273.0 421.3 272.5 422.0 267.0 422.8 259.4 423.6 259.0 424.4 258.4 425.1 256.0 425.9 253.8 426.7 252.3 427.3 256.5 428.0 258.6 428.6 264.8 429.3 271.4 429.9 276.4 430.6 284.1 431.2 287.7 431.9 284.4 432.5 288.0 433.1 289.5 433.8 287.6 434.4 289.8 435.0 311.7 435.6 295.2 436.3 272.5 437.0 272.2 437.7 276.4 438.2 267.7 438.8 257.2 439.5 268.8 440.2 284.1 440.9 293.1 441.5 300.0 442.1 299.2 442.9 304.1 443.8 314.1 444.6 316.5 445.4 312.8 446.1 311.7 446.9 307.0 447.5 303.8 448.2 303.3 448.8 299.2 449.3 290.5 449.8 282.2 450.4 281.9 451.0 295.5 451.7 307.0 452.4 303.6 453.0 301.9 453.7 299.2 454.3 306.2 455.0 317.1 455.6 320.4 456.2 315.6 456.9 314.7 457.5 307.0 458.1 307.1 458.8 312.3 459.4 312.7 460.0 314.3 460.7 318.0 461.3 318.5 462.0 311.9 462.6 319.1 463.3 314.6 463.9 312.9 464.6 317.8 465.2 316.5 466.0 317.5 466.9 319.2 467.7 320.4 468.3 317.9 469.0 317.0 469.6 314.6 470.2 309.7 470.9 312.5 471.5 308.8 472.2 308.3 472.8 311.8 473.5 312.7 474.3 314.1 475.0 320.2 475.8 320.4 476.4 316.1 477.1 313.3 477.7 308.8 478.5 311.6 479.2 319.0 480.0 318.5 480.6 311.8 481.3 310.2 481.9 303.0 482.5 299.4 483.2 300.8 483.8 299.2 484.4 299.8 485.1 304.9 485.7 303.0 486.5 284.8 487.3 272.5 487.9 280.1 488.6 280.0 489.2 284.1 489.9 294.2 490.6 299.1 491.3 308.3 492.2 291.7 493.1 274.5 493.9 277.2 494.7 283.7 495.4 286.9 496.0 287.3 496.7 291.4 497.4 290.4 498.2 288.3 499.0 286.4 499.8 294.5 500.6 296.1 501.3 293.0 502.1 288.9 502.8 288.3 503.6 292.4 504.4 294.5 505.1 289.4 505.9 288.3 506.6 283.9 507.4 273.0 507.9 265.0 508.5 257.7 509.1 267.2 509.7 271.5 510.5 276.0" fill="none" stroke="#000" stroke-width="0.62" stroke-linejoin="round"/>
<path d="M43.2 297.9 43.9 299.1 44.5 300.5 45.1 300.1 45.8 299.2 46.4 299.8 47.0 305.6 47.7 310.0 48.3 306.3 49.0 309.4 49.6 314.9 50.3 311.4 50.9 313.2 51.5 312.5 52.1 310.7 52.8 310.4 53.4 315.8 54.0 314.6 54.7 311.7 55.3 312.0 56.0 314.6 56.6 306.2 57.3 309.4 57.9 310.7 58.6 306.8 59.2 308.1 59.8 310.9 60.5 311.1 61.1 313.2 61.7 313.0 62.4 308.3 63.0 310.7 63.7 309.6 64.3 305.5 65.0 306.9 65.6 308.9 66.3 304.9 66.9 305.6 67.5 310.1 68.2 301.0 68.8 304.3 69.7 304.2 70.6 303.0 71.3 301.0 71.9 304.3 72.6 301.7 73.2 299.7 73.9 301.8 74.5 299.2 75.1 293.6 75.8 298.7 76.4 294.1 77.1 290.2 77.7 297.6 78.4 292.8 79.1 290.9 79.8 294.0 80.5 290.0 81.2 289.2 82.0 290.8 82.8 287.1 83.5 286.9 84.3 285.9 85.0 283.1 85.8 282.3 86.6 282.1 87.3 279.7 88.1 280.0 88.9 284.5 89.7 277.4 90.4 281.0 91.2 279.5 92.0 278.0 92.7 280.6 93.5 276.0 94.2 276.4 95.0 279.2 95.8 274.0 96.5 275.9 97.3 273.3 98.1 269.3 98.8 269.6 99.6 265.6 100.4 265.7 101.1 273.7 101.9 274.9 102.7 274.9 103.5 279.0 104.2 275.3 105.0 276.4 105.8 280.2 106.5 274.6 107.2 277.1 108.0 274.9 108.8 273.9 109.5 275.9 110.3 273.9 111.1 274.9 111.9 277.8 112.7 274.5 113.4 276.3 114.2 276.4 115.0 274.6 115.8 280.0 116.5 279.2 117.3 281.0 118.0 280.9 118.8 275.9 119.5 282.4 120.3 277.9 121.1 277.8 121.8 286.9 122.6 281.0 123.4 275.5 124.1 286.3 124.9 279.5 125.7 280.1 126.4 284.9 127.2 285.6 128.0 285.0 128.7 292.7 129.5 291.8 130.3 286.8 131.2 296.0 131.9 300.6 132.6 303.0 133.4 301.9 134.1 307.8 134.9 307.6 135.7 302.7 136.4 307.5 137.2 304.6 138.0 302.7 138.7 305.2 139.5 301.5 140.3 301.7 141.0 305.5 141.8 303.0 142.6 302.6 143.3 308.8 144.1 304.6 144.9 305.1 145.6 307.5 146.4 307.6 147.2 305.9 147.9 314.1 148.7 307.6 149.5 303.2 150.2 311.0 151.0 309.2 151.8 306.3 152.5 310.0 153.3 307.6 154.1 305.1 154.8 307.9 155.6 306.1 156.4 305.3 157.1 309.9 157.9 309.2 158.7 306.3 159.4 309.5 160.2 306.9 161.0 304.1 161.7 309.7 162.5 307.6 163.3 304.1 164.1 306.4 164.9 304.6 165.7 304.2 166.4 308.0 167.2 306.1 168.0 305.5 168.7 307.7 169.5 304.6 170.3 303.8 171.0 306.4 171.8 306.1 172.6 303.6 173.3 306.5 174.1 303.0 174.9 298.9 175.6 303.7 176.4 300.0 177.2 293.8 177.9 298.7 178.7 296.9 179.5 293.4 180.2 295.6 181.0 292.3 181.8 286.7 182.6 290.1 183.3 287.5 184.1 287.7 184.7 288.4 185.4 282.5 186.0 282.0 186.6 282.9 187.3 275.3 187.9 276.4 188.7 280.8 189.4 279.0 190.2 282.5 191.0 281.8 191.8 275.3 192.5 278.6 193.3 276.4 194.1 272.6 194.8 271.6 195.6 267.2 196.3 266.7 197.1 271.8 197.9 273.6 198.6 272.0 199.4 276.4 200.2 274.5 200.9 268.2 201.7 266.4 202.4 270.9 203.2 274.9 204.0 271.7 204.7 275.6 205.5 273.3 206.3 274.5 207.0 278.7 207.8 281.0 208.6 279.1 209.3 284.8 210.1 284.1 210.9 281.9 211.6 295.9 212.4 290.2 213.2 288.4 213.9 288.3 214.7 285.6 215.5 280.8 216.2 287.2 217.0 284.1 217.8 281.8 218.5 291.3 219.3 288.7 220.1 287.3 220.8 292.3 221.6 293.3 222.4 296.1 223.2 303.3 224.0 304.6 224.8 301.4 225.5 303.8 226.3 303.0 227.1 302.7 227.8 304.5 228.6 304.6 229.4 303.6 230.1 307.9 230.9 306.1 231.7 304.3 232.4 305.0 233.2 303.0 234.0 303.9 234.7 309.0 235.5 306.1 236.3 301.0 237.0 306.0 237.8 304.6 238.6 302.1 239.3 308.6 240.1 307.6 240.9 307.6 241.6 309.5 242.4 309.2 243.2 306.7 243.9 310.4 244.7 307.6 245.5 307.0 246.2 310.3 247.0 306.1 247.8 300.8 248.5 304.6 249.3 303.0 250.1 299.6 250.8 301.7 251.6 300.0 252.4 297.5 253.1 298.0 253.9 296.9 254.7 295.9 255.4 299.4 256.2 296.9 257.0 291.9 257.7 297.0 258.5 293.8 259.3 292.7 260.1 294.1 260.8 292.1 261.6 292.3 262.4 292.0 263.1 287.4 263.9 289.5 264.7 287.0 265.4 278.7 266.2 284.9 266.9 280.5 267.7 279.5 268.5 282.0 269.2 275.7 270.0 276.7 270.8 274.9 271.6 272.4 272.3 273.6 273.1 268.7 273.8 264.1 274.6 265.3 275.4 276.4 276.1 275.9 276.9 273.3 277.7 270.7 278.4 275.7 279.2 271.8 280.0 273.0 280.7 277.1 281.5 277.9 282.3 272.1 283.0 276.3 283.8 273.3 284.6 271.2 285.3 278.3 286.1 274.9 286.9 276.7 287.7 279.5 288.4 283.0 289.2 286.0 289.9 291.8 290.7 298.0 291.4 295.7 292.0 292.0 292.8 292.2 293.5 294.0 294.4 302.6 295.3 304.6 296.1 304.0 296.8 307.5 297.6 306.1 298.4 305.4 299.2 309.1 300.0 309.2 300.8 309.3 301.5 316.1 302.3 310.7 303.1 309.7 303.8 314.5 304.6 312.3 305.4 311.2 306.1 318.4 306.9 313.8 307.7 310.3 308.4 315.0 309.2 310.7 310.0 307.9 310.7 311.9 311.5 312.3 312.3 308.5 313.0 313.0 313.8 310.7 314.6 306.3 315.3 310.2 316.1 309.2 316.9 308.5 317.6 308.5 318.4 307.6 319.1 304.9 319.9 303.0 320.7 307.2 321.4 306.6 322.2 310.7 323.0 312.8 323.7 307.4 324.5 306.1 325.3 311.1 326.0 305.4 326.8 309.2 327.6 313.5 328.3 308.4 329.1 310.7 329.9 312.5 330.6 302.6 331.4 306.1 332.2 305.2 333.0 301.5 333.8 301.4 334.5 305.8 335.3 304.6 336.1 303.5 336.8 303.4 337.6 301.5 338.4 297.5 339.1 299.0 339.9 296.9 340.7 294.6 341.4 295.2 342.2 293.8 342.9 290.9 343.7 288.7 344.5 288.5 345.2 282.0 346.0 284.0 346.8 280.0 347.6 276.9 348.3 278.4 349.1 273.3 349.9 268.5 350.6 269.8 351.4 273.9 352.1 268.5 352.9 274.4 353.6 273.0 354.4 269.8 355.2 270.4 356.0 275.5 356.8 275.9 357.6 276.1 358.3 278.1 359.1 279.0 359.9 277.5 360.6 281.2 361.4 282.1 362.2 282.7 362.9 285.4 363.7 286.7 364.5 285.2 365.2 296.2 366.0 291.3 366.8 292.8 367.5 297.5 368.3 298.0 369.0 310.7 369.8 310.3 370.5 316.4 371.3 312.3 372.1 307.7 372.8 312.5 373.6 309.2 374.4 309.0 375.2 312.5 376.0 310.7 376.8 308.2 377.5 312.6 378.3 310.7 379.1 308.1 379.8 309.9 380.6 309.2 381.4 307.2 382.1 310.4 382.9 310.7 383.7 308.3 384.4 308.7 385.2 307.6 386.0 305.4 386.7 309.9 387.5 307.6 388.3 306.9 389.0 310.4 389.8 309.2 390.6 306.2 391.3 308.7 392.1 307.6 392.9 307.0 393.6 310.3 394.4 309.2 395.2 306.9 395.9 308.5 396.7 307.6 397.5 307.2 398.2 311.3 399.0 310.7 399.8 307.8 400.5 310.1 401.3 309.2 402.1 305.2 402.8 307.7 403.6 304.6 404.4 303.4 405.1 307.5 405.9 303.0 406.7 301.1 407.4 303.8 408.2 298.4 409.0 290.6 409.7 295.9 410.5 292.3 411.2 287.8 412.0 286.1 412.8 283.9 413.6 280.0 414.4 276.7 415.1 276.3 415.9 271.3 416.7 265.2 417.4 272.5 418.2 268.3 419.0 265.8 419.7 270.5 420.5 266.7 421.3 266.6 422.0 274.4 422.8 271.3 423.6 268.4 424.3 273.1 425.1 272.0 426.0 269.2 426.8 274.0 427.7 272.5 428.3 274.1 429.0 280.8 429.6 282.2 430.2 282.6 430.9 287.5 431.5 284.1 432.2 284.5 432.8 286.3 433.5 286.0 434.4 285.8 435.4 291.5 436.3 292.0 437.0 292.5 437.8 298.9 438.5 294.1 439.2 299.0 439.9 304.2 440.6 299.6 441.4 304.6 442.1 303.1 442.8 301.8 443.6 306.5 444.3 303.9 445.0 305.0 445.7 306.4 446.4 302.9 447.2 309.8 447.9 306.9 448.6 304.9 449.4 316.1 450.1 304.6 450.8 308.8 451.5 311.3 452.2 306.3 453.0 313.7 453.7 310.8 454.6 308.1 455.6 312.3 456.5 310.8 457.2 310.1 457.9 311.1 458.7 305.4 459.4 308.8 460.1 313.2 460.9 305.0 461.6 308.4 462.3 306.9 463.0 306.3 463.8 309.0 464.5 306.1 465.2 308.8 465.9 310.5 466.6 307.4 467.4 307.5 468.1 306.9 468.8 305.4 469.6 306.6 470.3 305.1 471.0 305.0 471.9 309.6 472.9 305.7 473.8 306.9 474.5 306.4 475.2 304.0 476.0 304.6 476.7 303.1 477.4 301.5 478.1 303.2 478.9 297.9 479.6 301.2 480.3 302.1 481.1 300.1 481.8 300.1 482.5 299.2 483.2 295.6 483.9 298.9 484.7 296.3 485.4 295.4 486.1 295.3 486.9 289.8 487.6 294.4 488.3 291.5 489.0 288.2 489.8 290.3 490.5 288.3 491.2 287.7 492.1 288.0 493.1 280.6 494.0 283.8 494.7 282.5 495.4 276.1 496.2 283.2 496.9 278.3 497.7 273.7 498.4 278.3 499.2 276.7 500.0 278.0 500.8 278.0 501.5 274.3 502.2 277.5 503.0 276.0 503.7 275.5 504.3 278.4 505.0 279.0 505.9 273.1 506.8 276.7 507.6 271.6 508.5 272.5 509.2 275.3 509.8 273.2 510.5 274.5" fill="none" stroke="#0ff" stroke-width="0.7" stroke-linejoin="round"/>
<path d="M47.2 299.2 47.7 305.6 48.3 306.3 49.0 309.8 49.6 310.7 50.2 309.6 50.9 310.9 51.5 308.1 52.1 306.7 52.8 308.3 53.4 305.6 54.0 306.2 54.7 310.7 55.3 314.5 56.0 307.2 56.6 308.1 57.2 309.2 57.9 309.1 58.5 310.7 59.2 310.6 59.8 307.4 60.5 309.4 61.1 313.0 61.8 308.9 62.4 313.2 63.0 313.2 63.7 307.1 64.3 310.7 64.9 310.0 65.6 307.5 66.2 308.1 66.8 310.3 67.5 306.6 68.1 309.4 68.7 310.7 69.4 299.3 70.0 301.7 70.7 304.1 71.3 304.0 72.0 305.6 72.6 304.4 73.3 300.3 73.9 300.5 74.5 300.2 75.2 298.1 75.8 299.2 76.4 299.0 77.1 296.2 77.7 296.6 78.6 297.0 79.5 294.0 80.3 290.4 81.1 292.6 81.9 291.5 82.7 289.3 83.5 289.7 84.2 288.0 85.0 286.9 85.8 288.7 86.5 281.9 87.3 286.1 88.1 282.3 88.9 281.9 89.7 281.8 90.4 279.5 91.2 280.8 92.0 285.5 92.7 281.2 93.5 284.4 94.2 283.8 95.0 280.5 95.8 283.9 96.5 275.7 97.3 277.7 98.0 278.6 98.8 276.4 99.6 273.9 100.3 274.8 101.1 271.8 101.9 270.3 102.6 280.4 103.4 277.9 104.2 273.3 105.0 282.4 105.7 275.1 106.5 274.9 107.3 275.1 108.0 273.6 108.8 275.0 109.6 273.3 110.4 269.5 111.2 277.1 111.9 275.0 112.7 276.4 113.5 283.3 114.2 277.8 115.0 280.2 115.7 281.0 116.5 281.6 117.2 287.1 118.0 285.1 118.8 287.2 119.5 289.6 120.3 285.6 121.1 284.3 121.8 284.7 122.6 284.1 123.4 281.9 124.1 292.2 124.9 287.2 125.7 283.7 126.4 289.0 127.2 284.1 128.0 284.7 128.7 289.3 129.5 290.2 130.3 287.6 131.0 295.7 131.8 293.3 132.6 293.3 133.3 302.3 134.1 299.0 134.9 298.6 135.6 304.3 136.4 303.0 137.2 302.5 137.9 303.7 138.7 303.0 139.5 299.7 140.2 299.1 141.0 292.1 141.8 290.8 142.6 301.0 143.3 298.4 144.1 298.0 144.8 301.0 145.6 301.5 146.4 303.3 147.2 307.0 148.0 309.2 148.8 306.0 149.5 308.4 150.3 306.1 151.1 300.1 151.8 309.9 152.6 303.0 153.4 299.5 154.1 304.2 154.9 304.6 155.7 300.0 156.4 307.1 157.2 301.5 158.0 302.2 158.7 308.8 159.5 306.1 160.3 304.1 161.0 306.4 161.8 304.6 162.6 298.3 163.3 308.9 164.1 307.6 164.9 303.7 165.6 306.5 166.4 304.6 167.2 303.1 167.9 304.8 168.7 303.0 169.5 298.4 170.2 301.8 171.0 298.4 171.8 295.8 172.5 297.9 173.3 295.4 174.1 292.8 174.8 298.7 175.6 292.3 176.4 292.0 177.1 295.5 177.9 296.9 178.7 298.2 179.4 303.0 180.2 300.3 181.0 295.4 181.8 292.6 182.5 292.1 183.3 289.2 184.1 286.5 184.8 287.3 185.6 286.1 186.3 283.5 187.1 284.1 187.9 288.2 188.6 287.6 189.4 290.2 190.2 289.0 190.9 282.4 191.7 281.0 192.5 281.4 193.2 277.6 194.0 277.9 194.8 276.9 195.5 270.9 196.3 274.9 197.1 273.9 197.8 271.0 198.6 270.3 199.4 276.0 200.1 275.9 200.9 284.1 201.7 280.6 202.4 276.6 203.2 273.3 204.0 274.5 204.7 271.7 205.5 271.8 206.3 275.4 207.0 275.8 207.8 279.5 208.6 282.9 209.3 283.5 210.1 285.6 210.9 291.2 211.6 284.4 212.4 288.7 213.2 288.7 213.9 287.1 214.7 287.2 215.5 289.0 216.2 289.1 217.0 290.2 217.8 292.7 218.6 289.2 219.4 289.1 220.1 296.1 220.9 298.4 221.7 295.5 222.4 304.5 223.2 304.6 224.0 306.2 224.7 310.1 225.5 312.3 226.2 306.3 227.0 306.1 227.8 308.8 228.5 299.8 229.3 301.5 230.1 306.6 230.8 303.4 231.6 304.6 232.4 308.1 233.1 304.8 233.9 307.6 234.7 306.4 235.4 304.1 236.2 303.0 237.0 305.1 237.7 302.5 238.5 306.1 239.3 305.7 240.1 304.1 240.9 304.6 241.7 306.0 242.4 303.1 243.2 303.0 244.0 304.8 244.7 303.0 245.5 304.6 246.3 306.4 247.0 301.8 247.8 301.5 248.6 302.6 249.3 298.1 250.1 298.4 250.9 303.7 251.6 295.7 252.4 296.9 253.2 301.4 253.9 297.1 254.7 300.0 255.5 300.6 256.2 295.7 257.0 293.8 257.8 295.1 258.5 291.1 259.3 296.9 260.1 300.3 260.8 299.7 261.6 303.0 262.4 301.1 263.1 294.1 263.9 292.3 264.7 294.4 265.4 286.8 266.2 287.5 267.0 288.0 267.8 285.6 268.5 289.4 269.3 284.1 270.1 283.0 270.8 283.4 271.6 276.9 272.3 281.0 273.1 276.4 273.9 275.0 274.6 271.7 275.4 270.3 276.1 276.9 276.9 276.4 277.6 274.8 278.4 281.0 279.2 279.4 280.0 271.8 280.8 269.3 281.5 270.3 282.3 274.4 283.1 274.9 283.9 274.6 284.6 277.8 285.4 277.9 286.2 276.9 286.9 281.6 287.7 281.0 288.5 279.5 289.2 283.4 290.0 284.1 290.8 283.5 291.5 284.7 292.3 282.5 293.1 284.5 293.8 291.8 294.6 299.1 295.3 306.1 296.1 301.8 296.8 306.0 297.6 303.0 298.4 300.1 299.2 307.1 300.0 306.1 300.8 304.5 301.5 311.2 302.3 310.7 303.1 307.1 303.8 313.3 304.6 312.3 305.4 311.6 306.1 318.2 306.9 313.8 307.7 313.1 308.4 317.2 309.2 312.3 310.0 310.2 310.7 312.5 311.5 310.7 312.3 308.6 313.0 310.7 313.8 309.2 314.6 304.5 315.3 311.4 316.1 310.7 316.9 309.6 317.6 311.3 318.4 307.6 319.2 304.5 319.9 309.1 320.7 306.1 321.5 305.6 322.2 308.9 323.0 309.2 323.8 306.1 324.5 308.0 325.3 304.6 326.1 302.6 326.8 308.6 327.6 307.6 328.4 304.5 329.1 306.4 329.9 304.6 330.7 303.5 331.4 306.5 332.2 303.0 333.0 301.4 333.7 303.4 334.5 301.5 335.3 299.8 336.0 301.0 336.8 300.0 337.6 297.2 338.3 304.9 339.1 303.0 339.9 299.1 340.6 300.3 341.4 298.4 342.2 295.2 342.9 299.2 343.7 293.0 344.5 289.5 345.2 292.0 346.0 290.0 346.8 288.1 347.5 291.1 348.3 287.0 349.1 283.3 349.8 289.8 350.6 288.2 351.3 281.2 352.1 282.1 352.9 282.3 353.6 276.4 354.4 274.4 355.2 275.1 356.0 272.9 356.8 274.6 357.5 280.5 358.3 282.8 359.1 282.1 359.9 276.0 360.6 277.5 361.4 284.9 362.1 282.1 362.9 278.4 363.6 284.5 364.4 283.6 365.2 283.2 365.9 288.8 366.7 286.7 367.5 289.3 368.3 293.0 369.1 300.9 369.8 297.1 370.6 303.0 371.4 306.6 372.1 304.7 372.9 309.2 373.7 309.7 374.4 307.3 375.2 310.7 376.0 317.6 376.7 311.9 377.5 313.0 378.3 312.7 379.0 310.4 379.8 309.2 380.6 313.7 381.3 307.5 382.1 310.7 382.9 311.3 383.6 308.4 384.4 307.6 385.2 311.1 385.9 305.0 386.7 304.6 387.5 310.2 388.2 306.7 389.0 310.7 389.8 312.2 390.5 307.3 391.3 307.6 392.1 311.7 392.8 306.6 393.6 309.2 394.4 310.8 395.1 307.1 395.9 310.7 396.7 308.6 397.4 305.0 398.2 303.0 399.0 307.1 399.7 300.4 400.5 306.1 401.3 307.3 402.0 292.3 402.8 296.9 403.6 299.9 404.3 295.7 405.1 300.0 405.9 304.3 406.6 298.0 407.4 301.5 408.2 303.2 408.9 294.7 409.7 296.9 410.5 296.3 411.3 289.2 412.1 285.6 412.8 287.1 413.6 285.0 414.4 281.9 415.1 287.9 415.9 282.1 416.7 278.2 417.4 279.1 418.2 275.9 418.9 272.6 419.7 269.8 420.5 272.4 421.3 272.9 422.1 269.6 422.9 274.5 423.5 274.4 424.2 267.3 424.8 268.7 425.5 273.0 426.2 268.8 427.0 273.6 427.7 274.5 428.3 276.2 429.0 280.6 429.6 280.2 430.3 279.0 431.1 284.1 431.8 282.8 432.5 286.0 433.2 287.0 433.9 281.0 434.7 285.6 435.4 282.2 436.0 281.3 436.7 288.4 437.3 287.9 438.0 285.9 438.8 291.7 439.5 287.7 440.2 291.8 440.8 294.4 441.5 290.2 442.1 293.5 442.7 298.4 443.4 295.5 444.0 303.1 444.7 310.0 445.4 299.2 446.2 305.1 446.9 305.0 447.6 304.1 448.4 309.9 449.1 304.5 449.8 306.9 450.5 311.9 451.2 307.6 452.0 308.4 452.7 308.8 453.4 308.5 454.1 310.3 454.9 308.7 455.6 308.8 456.3 314.6 457.1 306.9 457.8 308.7 458.5 306.9 459.4 305.4 460.4 307.6 461.3 306.9 462.0 304.2 462.8 309.7 463.5 302.5 464.2 305.0 464.9 305.7 465.6 305.5 466.4 307.2 467.1 306.9 467.8 304.7 468.6 308.4 469.3 301.3 470.0 305.0 470.7 309.7 471.4 302.5 472.2 303.8 472.9 303.1 473.6 301.1 474.4 305.8 475.1 300.9 475.8 301.2 476.5 304.0 477.2 299.5 478.0 303.6 478.7 303.1 479.6 298.6 480.6 301.4 481.5 299.2 482.2 297.1 482.9 302.4 483.7 299.1 484.4 301.2 485.1 300.2 485.9 299.2 486.6 298.3 487.3 297.3 488.0 293.3 488.8 297.5 489.5 292.2 490.2 291.5 490.8 294.9 491.3 288.3 492.1 287.2 492.9 288.5 493.6 282.3 494.4 285.3 495.2 287.3 495.9 280.0 496.7 286.2 497.5 280.7 498.3 278.3 499.0 277.6 499.8 274.5 500.6 273.8 501.3 282.4 502.1 283.7 502.9 282.5 503.6 282.0 504.4 280.7 505.1 276.4 505.9 281.0 506.6 274.5 507.4 273.0 508.2 274.8 509.0 270.0 509.8 274.6 510.5 283.2 511.3 285.3 512.1 278.0 512.8 281.0 513.6 277.6" fill="none" stroke="#00f" stroke-width="0.7" stroke-linejoin="round"/>
<path d="M51.6 305.0 52.1 306.9 52.8 308.3 53.4 311.4 54.1 313.2 54.7 310.7 55.3 309.4 56.0 309.6 56.6 303.7 57.3 303.0 57.9 307.7 58.6 306.9 59.2 309.4 59.8 312.2 60.5 308.1 61.1 312.0 61.7 313.9 62.4 309.7 63.0 310.7 63.6 311.4 64.3 305.4 64.9 305.6 65.6 303.1 66.2 300.5 66.8 299.8 67.5 304.3 68.1 308.4 68.8 305.3 69.4 308.1 70.0 310.9 70.7 302.7 71.3 305.6 71.9 308.2 72.6 302.6 73.2 308.1 73.9 310.3 74.5 304.7 75.2 304.3 75.8 307.7 76.5 300.4 77.1 303.0 77.8 310.1 78.4 308.1 79.0 304.5 79.6 302.3 80.4 299.6 81.2 294.6 82.0 289.5 82.7 290.0 83.5 291.9 84.2 284.4 85.0 285.4 85.8 285.6 86.5 283.0 87.3 285.9 88.1 283.8 88.9 281.3 89.7 287.6 90.4 284.7 91.2 286.9 92.0 291.4 92.7 283.3 93.5 287.0 94.2 283.8 95.0 282.0 95.7 281.0 96.5 279.2 97.3 277.2 98.0 279.1 98.8 276.4 99.6 275.2 100.3 278.8 101.1 275.8 101.9 281.0 102.7 281.6 103.5 275.5 104.2 278.8 105.0 274.9 105.8 272.6 106.5 275.0 107.2 271.1 108.0 270.3 108.8 273.3 109.6 273.3 110.4 276.4 111.2 276.4 111.9 272.5 112.7 273.3 113.5 278.4 114.2 271.4 115.0 278.5 115.7 279.5 116.5 273.8 117.2 282.1 118.0 272.6 118.8 274.9 119.6 283.2 120.3 279.2 121.1 286.0 121.8 286.3 122.6 284.1 123.4 281.6 124.1 288.5 124.9 287.2 125.7 285.5 126.4 291.0 127.2 288.7 128.0 284.3 128.7 285.8 129.5 284.1 130.3 285.1 131.1 288.7 131.9 291.3 132.6 288.5 133.4 291.8 134.2 288.1 134.9 284.1 135.7 286.3 136.4 290.2 137.2 298.8 137.9 290.3 138.7 294.8 139.5 295.2 140.3 295.4 141.1 293.8 141.8 304.7 142.6 300.0 143.4 300.6 144.1 303.1 144.9 303.0 145.7 300.2 146.4 307.4 147.2 304.6 148.0 300.5 148.7 306.3 149.5 303.0 150.3 302.8 151.0 307.6 151.8 306.1 152.6 300.1 153.3 304.4 154.1 301.5 154.9 300.6 155.6 305.2 156.4 303.0 157.2 301.7 157.9 307.0 158.7 304.6 159.5 300.7 160.2 303.6 161.0 298.4 161.8 297.5 162.5 300.9 163.3 301.5 164.1 297.5 164.8 303.1 165.6 301.5 166.4 298.9 167.1 300.8 167.9 298.4 168.7 295.3 169.4 298.0 170.2 296.9 171.0 295.4 171.7 297.2 172.5 295.4 173.3 292.0 174.0 295.2 174.8 290.8 175.6 291.7 176.4 293.8 177.2 295.2 177.9 292.0 178.7 292.3 179.5 296.0 180.2 294.3 181.0 295.4 181.8 297.1 182.5 296.7 183.3 298.4 184.1 296.4 184.8 293.8 185.6 289.7 186.3 295.5 187.1 289.2 187.9 286.7 188.6 290.2 189.4 284.6 190.2 281.0 191.0 276.5 191.8 279.5 192.5 276.8 193.3 277.9 194.1 279.4 194.8 278.2 195.6 279.6 196.3 279.0 197.1 272.4 197.9 279.2 198.6 274.3 199.4 276.4 200.2 278.2 200.9 273.2 201.7 274.9 202.5 277.2 203.2 274.7 204.0 279.5 204.8 279.2 205.5 277.0 206.3 276.4 207.1 279.9 207.8 278.4 208.6 281.0 209.3 279.6 210.1 277.9 210.9 276.5 211.7 282.5 212.4 290.2 213.2 290.2 214.0 290.6 214.7 293.7 215.5 293.3 216.3 290.5 217.0 292.4 217.8 290.2 218.6 288.5 219.3 293.9 220.1 291.8 220.9 290.7 221.6 292.7 222.4 288.7 223.2 288.7 224.0 290.8 224.8 295.0 225.5 298.4 226.3 296.3 227.0 299.1 227.8 296.9 228.6 296.3 229.3 300.2 230.1 300.0 230.9 299.3 231.6 302.2 232.4 303.0 233.2 302.9 233.9 303.0 234.7 303.0 235.5 301.7 236.2 306.7 237.0 306.1 237.8 305.2 238.5 307.9 239.3 307.6 240.1 306.0 240.8 306.5 241.6 304.6 242.4 303.4 243.1 307.2 243.9 303.0 244.7 301.3 245.4 307.7 246.2 306.1 247.0 299.2 247.7 305.9 248.5 303.0 249.3 301.8 250.0 304.0 250.8 300.0 251.6 297.6 252.3 299.8 253.1 298.4 253.9 293.7 254.6 296.7 255.4 295.4 256.2 294.9 256.9 298.6 257.7 298.4 258.5 294.8 259.3 301.1 260.1 296.9 260.9 295.6 261.6 296.9 262.4 295.4 263.2 292.4 263.9 295.5 264.7 292.0 265.4 289.5 266.2 290.2 267.0 293.8 267.8 296.1 268.5 298.0 269.3 289.0 270.1 286.1 270.8 287.0 271.6 285.6 272.3 282.5 273.1 277.9 273.9 275.4 274.6 281.9 275.4 279.5 276.2 277.4 276.9 281.3 277.7 274.9 278.5 267.0 279.2 276.1 280.0 273.3 280.8 272.4 281.5 276.4 282.3 275.9 283.1 271.8 283.9 273.4 284.6 276.4 285.4 278.5 286.1 277.9 286.9 276.6 287.7 282.5 288.4 285.7 289.2 285.6 290.0 287.1 290.7 290.0 291.5 292.0 292.3 293.7 293.0 297.7 293.8 300.0 294.6 296.6 295.3 301.2 296.1 298.4 296.9 298.1 297.6 303.1 298.4 303.0 299.2 304.5 299.9 308.0 300.7 307.6 301.5 306.3 302.2 307.3 303.0 306.1 303.8 307.1 304.5 312.0 305.3 310.7 306.1 302.8 306.8 307.9 307.6 304.6 308.4 304.9 309.1 308.0 309.9 309.2 310.7 308.7 311.4 311.9 312.2 307.6 313.0 306.4 313.7 312.4 314.5 310.7 315.3 306.9 316.1 310.7 316.9 307.6 317.7 305.2 318.4 312.6 319.2 306.1 320.0 305.9 320.7 308.7 321.5 309.2 322.3 304.3 323.0 312.4 323.8 307.6 324.6 304.1 325.3 306.7 326.1 304.6 326.9 302.9 327.6 304.9 328.4 303.0 329.2 299.8 329.9 303.6 330.7 301.5 331.4 298.1 332.2 296.9 333.0 299.0 333.7 299.4 334.5 301.5 335.3 299.9 336.0 294.0 336.8 295.4 337.6 295.7 338.5 291.0 339.2 289.4 339.9 288.7 340.6 290.5 341.4 289.2 342.2 293.3 342.9 289.2 343.7 292.0 344.5 294.0 345.3 290.0 346.0 298.0 346.8 295.5 347.5 302.7 348.3 301.5 349.1 304.6 349.9 295.5 350.6 292.0 351.4 291.5 352.1 285.0 352.8 280.7 353.5 280.0 354.4 282.5 355.2 276.0 356.0 274.3 356.7 279.0 357.5 280.5 358.3 283.4 359.1 286.7 359.9 293.0 360.6 286.2 361.4 289.8 362.1 304.6 362.9 301.2 363.7 296.0 364.4 298.4 365.2 296.4 365.9 296.9 366.7 295.4 367.5 293.5 368.2 299.8 369.0 300.0 369.8 299.8 370.5 307.0 371.3 306.1 372.1 302.2 372.8 301.7 373.6 295.4 374.4 294.8 375.2 301.3 376.0 303.0 376.8 303.2 377.5 306.5 378.3 307.6 379.1 306.8 379.8 311.1 380.6 310.7 381.4 306.5 382.1 310.0 382.9 309.2 383.7 306.1 384.4 312.5 385.2 310.7 386.0 309.7 386.7 310.1 387.5 309.2 388.3 306.5 389.0 308.9 389.8 307.6 390.6 305.2 391.3 311.5 392.1 306.1 392.9 306.2 393.6 310.1 394.4 307.6 395.2 303.3 395.9 310.8 396.7 309.2 397.5 306.9 398.2 308.8 399.0 307.6 399.8 305.2 400.5 309.8 401.3 303.0 402.1 303.8 402.8 307.8 403.6 306.1 404.4 302.2 405.1 305.5 405.9 301.5 406.7 301.9 407.4 303.7 408.2 304.6 408.9 301.1 409.7 298.4 410.5 299.2 411.2 294.7 412.0 296.9 412.8 297.6 413.6 293.8 414.4 289.8 415.1 291.4 415.9 289.2 416.7 286.5 417.4 288.0 418.2 284.5 419.0 280.9 419.7 284.2 420.5 282.1 421.2 280.5 421.9 286.0 422.5 284.9 423.2 278.3 423.8 280.2 424.5 282.7 425.1 282.6 425.8 284.1 426.4 289.3 427.1 291.9 427.7 299.2 428.2 296.8 428.7 291.8 429.3 290.1 430.0 293.9 430.6 293.7 431.3 291.0 432.1 298.1 432.8 295.6 433.5 297.3 434.4 297.2 435.4 292.6 436.3 295.4 437.0 299.7 437.8 298.2 438.5 301.8 439.2 301.2 439.9 299.9 440.6 303.0 441.4 299.3 442.1 303.1 442.8 304.1 443.6 303.4 444.3 305.4 445.0 305.0 445.7 305.8 446.4 309.4 447.2 307.5 447.9 308.8 448.6 310.1 449.4 307.8 450.1 309.3 450.8 306.9 451.5 305.6 452.2 309.0 453.0 308.1 453.7 308.8 454.6 311.0 455.6 304.7 456.5 310.8 457.2 310.9 457.9 306.1 458.7 312.9 459.4 306.9 460.1 301.8 460.9 311.2 461.6 304.7 462.3 305.0 463.0 306.2 463.8 299.8 464.5 305.0 465.2 303.1 465.9 296.9 466.6 304.9 467.4 301.7 468.1 305.0 468.8 304.1 469.6 301.7 470.3 303.5 471.0 301.2 471.9 298.8 472.9 301.3 473.8 299.2 474.5 297.0 475.2 305.0 476.0 296.2 476.7 301.2 477.4 302.9 478.1 296.4 478.9 299.7 479.6 297.3 480.2 292.3 480.9 293.7 481.5 291.5 482.2 287.6 482.9 295.7 483.7 293.2 484.4 295.4 485.1 297.4 485.9 296.2 486.6 296.9 487.3 297.3 488.0 293.6 488.8 298.0 489.5 291.1 490.2 293.5 490.9 298.6 491.6 291.3 492.4 298.3 493.1 299.2 494.0 291.5 495.0 290.1 495.9 285.0 496.7 282.9 497.4 286.8 498.2 280.9 499.0 282.2 499.8 284.0 500.6 281.1 501.3 287.1 502.1 280.7 502.9 277.8 503.6 279.6 504.4 276.5 505.1 277.6 505.9 281.4 506.6 277.3 507.4 280.7 508.2 279.1 508.9 270.9 509.7 273.0 510.5 273.7 511.2 268.5 512.0 270.0 512.8 275.9 513.6 277.6 514.4 279.3 515.1 283.7 515.9 281.9 516.6 277.6 517.4 274.7 518.2 274.5 519.0 279.2 519.7 283.0" fill="none" stroke="#f00" stroke-width="0.7" stroke-linejoin="round"/>
<rect x="42.5" y="17.9" width="478.0" height="132.5" fill="none" stroke="#878787" stroke-width="1.0"/>
<path d="M42.50 150.4v4.6M42.50 17.9v-4.6M65.93 150.4v2.4M65.93 17.9v-2.4M89.36 150.4v4.6M89.36 17.9v-4.6M112.79 150.4v2.4M112.79 17.9v-2.4M136.23 150.4v4.6M136.23 17.9v-4.6M159.66 150.4v2.4M159.66 17.9v-2.4M183.09 150.4v4.6M183.09 17.9v-4.6M206.52 150.4v2.4M206.52 17.9v-2.4M229.95 150.4v4.6M229.95 17.9v-4.6M253.38 150.4v2.4M253.38 17.9v-2.4M276.81 150.4v4.6M276.81 17.9v-4.6M300.25 150.4v2.4M300.25 17.9v-2.4M323.68 150.4v4.6M323.68 17.9v-4.6M347.11 150.4v2.4M347.11 17.9v-2.4M370.54 150.4v4.6M370.54 17.9v-4.6M393.97 150.4v2.4M393.97 17.9v-2.4M417.40 150.4v4.6M417.40 17.9v-4.6M440.83 150.4v2.4M440.83 17.9v-2.4M464.26 150.4v4.6M464.26 17.9v-4.6M487.70 150.4v2.4M487.70 17.9v-2.4M511.13 150.4v4.6M511.13 17.9v-4.6M42.5 150.40h-5M520.5 150.40h5M42.5 131.47h-5M520.5 131.47h5M42.5 112.54h-5M520.5 112.54h5M42.5 93.61h-5M520.5 93.61h5M42.5 74.69h-5M520.5 74.69h5M42.5 55.76h-5M520.5 55.76h5M42.5 36.83h-5M520.5 36.83h5M42.5 17.90h-5M520.5 17.90h5M42.5 140.94h-2.6M520.5 140.94h2.6M42.5 122.01h-2.6M520.5 122.01h2.6M42.5 103.08h-2.6M520.5 103.08h2.6M42.5 84.15h-2.6M520.5 84.15h2.6M42.5 65.22h-2.6M520.5 65.22h2.6M42.5 46.29h-2.6M520.5 46.29h2.6M42.5 27.36h-2.6M520.5 27.36h2.6" stroke="#878787" stroke-width="1.0" fill="none"/>
<line x1="42.8" y1="93.61" x2="520.5" y2="93.61" stroke="#777" stroke-width="1" stroke-dasharray="6 5.43"/>
<text x="34.8" y="153.80" text-anchor="end" class="tk">−0.6</text>
<text x="34.8" y="134.87" text-anchor="end" class="tk">−0.4</text>
<text x="34.8" y="115.94" text-anchor="end" class="tk">−0.2</text>
<text x="34.8" y="97.01" text-anchor="end" class="tk">0</text>
<text x="34.8" y="78.09" text-anchor="end" class="tk">0.2</text>
<text x="34.8" y="59.16" text-anchor="end" class="tk">0.4</text>
<text x="34.8" y="40.23" text-anchor="end" class="tk">0.6</text>
<text x="34.8" y="21.30" text-anchor="end" class="tk">0.8</text>
<text x="42.50" y="166.50" text-anchor="middle" class="tk">0</text>
<text x="89.36" y="166.50" text-anchor="middle" class="tk">50</text>
<text x="136.23" y="166.50" text-anchor="middle" class="tk">100</text>
<text x="183.09" y="166.50" text-anchor="middle" class="tk">150</text>
<text x="229.95" y="166.50" text-anchor="middle" class="tk">200</text>
<text x="276.81" y="166.50" text-anchor="middle" class="tk">250</text>
<text x="323.68" y="166.50" text-anchor="middle" class="tk">300</text>
<text x="370.54" y="166.50" text-anchor="middle" class="tk">350</text>
<text x="417.40" y="166.50" text-anchor="middle" class="tk">400</text>
<text x="464.26" y="166.50" text-anchor="middle" class="tk">450</text>
<text x="511.13" y="166.50" text-anchor="middle" class="tk">500</text>
<text x="282" y="178.80" text-anchor="middle" class="yl">Year</text>
<rect x="42.5" y="229.9" width="478.0" height="132.6" fill="none" stroke="#878787" stroke-width="1.0"/>
<path d="M42.50 362.5v4.6M42.50 229.9v-4.6M65.93 362.5v2.4M65.93 229.9v-2.4M89.36 362.5v4.6M89.36 229.9v-4.6M112.79 362.5v2.4M112.79 229.9v-2.4M136.23 362.5v4.6M136.23 229.9v-4.6M159.66 362.5v2.4M159.66 229.9v-2.4M183.09 362.5v4.6M183.09 229.9v-4.6M206.52 362.5v2.4M206.52 229.9v-2.4M229.95 362.5v4.6M229.95 229.9v-4.6M253.38 362.5v2.4M253.38 229.9v-2.4M276.81 362.5v4.6M276.81 229.9v-4.6M300.25 362.5v2.4M300.25 229.9v-2.4M323.68 362.5v4.6M323.68 229.9v-4.6M347.11 362.5v2.4M347.11 229.9v-2.4M370.54 362.5v4.6M370.54 229.9v-4.6M393.97 362.5v2.4M393.97 229.9v-2.4M417.40 362.5v4.6M417.40 229.9v-4.6M440.83 362.5v2.4M440.83 229.9v-2.4M464.26 362.5v4.6M464.26 229.9v-4.6M487.70 362.5v2.4M487.70 229.9v-2.4M511.13 362.5v4.6M511.13 229.9v-4.6M42.5 362.50h-5M520.5 362.50h5M42.5 340.40h-5M520.5 340.40h5M42.5 318.30h-5M520.5 318.30h5M42.5 296.20h-5M520.5 296.20h5M42.5 274.10h-5M520.5 274.10h5M42.5 252.00h-5M520.5 252.00h5M42.5 229.90h-5M520.5 229.90h5M42.5 351.45h-2.6M520.5 351.45h2.6M42.5 329.35h-2.6M520.5 329.35h2.6M42.5 307.25h-2.6M520.5 307.25h2.6M42.5 285.15h-2.6M520.5 285.15h2.6M42.5 263.05h-2.6M520.5 263.05h2.6M42.5 240.95h-2.6M520.5 240.95h2.6" stroke="#878787" stroke-width="1.0" fill="none"/>
<line x1="42.8" y1="296.20" x2="520.5" y2="296.20" stroke="#777" stroke-width="1" stroke-dasharray="6 5.43"/>
<text x="34.8" y="365.90" text-anchor="end" class="tk">−6</text>
<text x="34.8" y="343.80" text-anchor="end" class="tk">−4</text>
<text x="34.8" y="321.70" text-anchor="end" class="tk">−2</text>
<text x="34.8" y="299.60" text-anchor="end" class="tk">0</text>
<text x="34.8" y="277.50" text-anchor="end" class="tk">2</text>
<text x="34.8" y="255.40" text-anchor="end" class="tk">4</text>
<text x="34.8" y="233.30" text-anchor="end" class="tk">6</text>
<text x="42.50" y="378.60" text-anchor="middle" class="tk">0</text>
<text x="89.36" y="378.60" text-anchor="middle" class="tk">50</text>
<text x="136.23" y="378.60" text-anchor="middle" class="tk">100</text>
<text x="183.09" y="378.60" text-anchor="middle" class="tk">150</text>
<text x="229.95" y="378.60" text-anchor="middle" class="tk">200</text>
<text x="276.81" y="378.60" text-anchor="middle" class="tk">250</text>
<text x="323.68" y="378.60" text-anchor="middle" class="tk">300</text>
<text x="370.54" y="378.60" text-anchor="middle" class="tk">350</text>
<text x="417.40" y="378.60" text-anchor="middle" class="tk">400</text>
<text x="464.26" y="378.60" text-anchor="middle" class="tk">450</text>
<text x="511.13" y="378.60" text-anchor="middle" class="tk">500</text>
<text x="282" y="390.90" text-anchor="middle" class="yl">Year</text>
<text x="42.3" y="10.4" class="ti">(a) SO SST time series</text>
<text x="42.6" y="221.6" class="ti">(b) The AABW cell time series</text>
<text transform="translate(10.2 84.2) rotate(-90)" text-anchor="middle" class="yl"><tspan font-size="7" dy="-6.2">o</tspan><tspan dy="6.2">C</tspan></text>
<text transform="translate(18.2 296.2) rotate(-90)" text-anchor="middle" class="yl">Sv</text>
<line x1="119" y1="191" x2="147" y2="191" stroke="#000" stroke-width="0.7"/>
<text x="151.3" y="194.2" class="lg">Target state</text>
<line x1="205.8" y1="191" x2="234.2" y2="191" stroke="#0ff" stroke-width="0.7"/>
<text x="237.4" y="194.2" class="lg">Lead 0yr</text>
<line x1="281.2" y1="191" x2="309.6" y2="191" stroke="#00f" stroke-width="0.7"/>
<text x="312.9" y="194.2" class="lg">Lead 5yr</text>
<line x1="356.9" y1="191" x2="384.0" y2="191" stroke="#f00" stroke-width="0.7"/>
<text x="388.4" y="194.2" class="lg">Lead 10yr</text>
</svg></body></html>
